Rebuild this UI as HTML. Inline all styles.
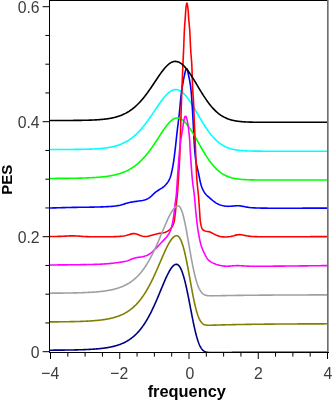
<!DOCTYPE html>
<html><head><meta charset="utf-8"><title>PES</title>
<style>
html,body{margin:0;padding:0;background:#fff;}
body{width:332px;height:401px;overflow:hidden;font-family:"Liberation Sans",sans-serif;}
svg{display:block;}
.t{font-family:"Liberation Sans",sans-serif;font-size:15.8px;fill:#3c3c3c;}
.b{font-family:"Liberation Sans",sans-serif;font-weight:bold;fill:#000;}
.c path{fill:none;stroke-width:1.6;stroke-linejoin:round;stroke-linecap:butt;}
</style></head><body>
<svg width="332" height="401" viewBox="0 0 332 401" style="will-change:transform">
<rect x="0" y="0" width="332" height="401" fill="#ffffff"/>
<defs><clipPath id="cp"><rect x="50" y="1" width="278" height="352"/></clipPath></defs>
<g class="c" clip-path="url(#cp)">
<path d="M50.00 149.49 L50.50 149.49 L51.00 149.49 L51.50 149.49 L52.00 149.49 L52.50 149.49 L53.00 149.49 L53.50 149.49 L54.00 149.49 L54.50 149.49 L55.00 149.49 L55.50 149.49 L56.00 149.49 L56.50 149.49 L57.00 149.49 L57.50 149.49 L58.00 149.48 L58.50 149.48 L59.00 149.48 L59.50 149.48 L60.00 149.48 L60.50 149.48 L61.00 149.48 L61.50 149.48 L62.00 149.48 L62.50 149.48 L63.00 149.47 L63.50 149.47 L64.00 149.47 L64.50 149.47 L65.00 149.47 L65.50 149.47 L66.00 149.47 L66.50 149.46 L67.00 149.46 L67.50 149.46 L68.00 149.46 L68.50 149.46 L69.00 149.45 L69.50 149.45 L70.00 149.45 L70.50 149.45 L71.00 149.44 L71.50 149.44 L72.00 149.44 L72.50 149.43 L73.00 149.43 L73.50 149.43 L74.00 149.42 L74.50 149.42 L75.00 149.41 L75.50 149.41 L76.00 149.41 L76.50 149.40 L77.00 149.40 L77.50 149.39 L78.00 149.38 L78.50 149.38 L79.00 149.37 L79.50 149.37 L80.00 149.36 L80.50 149.35 L81.00 149.34 L81.50 149.34 L82.00 149.33 L82.50 149.32 L83.00 149.31 L83.50 149.30 L84.00 149.29 L84.50 149.28 L85.00 149.27 L85.50 149.26 L86.00 149.25 L86.50 149.24 L87.00 149.22 L87.50 149.21 L88.00 149.19 L88.50 149.18 L89.00 149.16 L89.50 149.15 L90.00 149.13 L90.50 149.11 L91.00 149.09 L91.50 149.08 L92.00 149.05 L92.50 149.03 L93.00 149.01 L93.50 148.99 L94.00 148.96 L94.50 148.94 L95.00 148.91 L95.50 148.88 L96.00 148.86 L96.50 148.83 L97.00 148.79 L97.50 148.76 L98.00 148.73 L98.50 148.69 L99.00 148.65 L99.50 148.61 L100.00 148.57 L100.50 148.53 L101.00 148.49 L101.50 148.44 L102.00 148.39 L102.50 148.34 L103.00 148.29 L103.50 148.24 L104.00 148.18 L104.50 148.12 L105.00 148.06 L105.50 148.00 L106.00 147.93 L106.50 147.86 L107.00 147.79 L107.50 147.71 L108.00 147.63 L108.50 147.55 L109.00 147.47 L109.50 147.38 L110.00 147.29 L110.50 147.20 L111.00 147.10 L111.50 147.00 L112.00 146.89 L112.50 146.78 L113.00 146.67 L113.50 146.55 L114.00 146.43 L114.50 146.30 L115.00 146.17 L115.50 146.03 L116.00 145.89 L116.50 145.75 L117.00 145.59 L117.50 145.44 L118.00 145.28 L118.50 145.11 L119.00 144.93 L119.50 144.75 L120.00 144.57 L120.50 144.38 L121.00 144.18 L121.50 143.97 L122.00 143.76 L122.50 143.54 L123.00 143.31 L123.50 143.08 L124.00 142.84 L124.50 142.59 L125.00 142.34 L125.50 142.07 L126.00 141.80 L126.50 141.52 L127.00 141.23 L127.50 140.94 L128.00 140.63 L128.50 140.32 L129.00 139.99 L129.50 139.66 L130.00 139.32 L130.50 138.97 L131.00 138.61 L131.50 138.24 L132.00 137.86 L132.50 137.47 L133.00 137.07 L133.50 136.66 L134.00 136.24 L134.50 135.81 L135.00 135.37 L135.50 134.92 L136.00 134.46 L136.50 133.99 L137.00 133.51 L137.50 133.02 L138.00 132.52 L138.50 132.00 L139.00 131.48 L139.50 130.95 L140.00 130.40 L140.50 129.85 L141.00 129.28 L141.50 128.71 L142.00 128.12 L142.50 127.53 L143.00 126.92 L143.50 126.31 L144.00 125.68 L144.50 125.05 L145.00 124.40 L145.50 123.75 L146.00 123.09 L146.50 122.42 L147.00 121.75 L147.50 121.06 L148.00 120.37 L148.50 119.67 L149.00 118.97 L149.50 118.26 L150.00 117.54 L150.50 116.82 L151.00 116.09 L151.50 115.36 L152.00 114.62 L152.50 113.88 L153.00 113.14 L153.50 112.40 L154.00 111.65 L154.50 110.91 L155.00 110.16 L155.50 109.41 L156.00 108.67 L156.50 107.93 L157.00 107.19 L157.50 106.45 L158.00 105.72 L158.50 104.99 L159.00 104.27 L159.50 103.56 L160.00 102.85 L160.50 102.15 L161.00 101.46 L161.50 100.78 L162.00 100.12 L162.50 99.46 L163.00 98.82 L163.50 98.19 L164.00 97.58 L164.50 96.98 L165.00 96.40 L165.50 95.84 L166.00 95.29 L166.50 94.77 L167.00 94.26 L167.50 93.78 L168.00 93.32 L168.50 92.88 L169.00 92.46 L169.50 92.07 L170.00 91.71 L170.50 91.37 L171.00 91.06 L171.50 90.78 L172.00 90.53 L172.50 90.30 L173.00 90.11 L173.50 89.94 L174.00 89.81 L174.50 89.71 L175.00 89.64 L175.50 89.61 L176.00 89.60 L176.50 89.63 L177.00 89.69 L177.50 89.79 L178.00 89.91 L178.50 90.07 L179.00 90.26 L179.50 90.48 L180.00 90.73 L180.50 91.01 L181.00 91.32 L181.50 91.67 L182.00 92.04 L182.50 92.44 L183.00 92.87 L183.50 93.32 L184.00 93.81 L184.50 94.32 L185.00 94.85 L185.50 95.41 L186.00 95.99 L186.50 96.60 L187.00 97.23 L187.50 97.87 L188.00 98.54 L188.50 99.23 L189.00 99.94 L189.50 100.66 L190.00 101.40 L190.50 102.16 L191.00 102.93 L191.50 103.71 L192.00 104.51 L192.50 105.31 L193.00 106.13 L193.50 106.96 L194.00 107.79 L194.50 108.63 L195.00 109.48 L195.50 110.33 L196.00 111.18 L196.50 112.04 L197.00 112.90 L197.50 113.76 L198.00 114.63 L198.50 115.49 L199.00 116.35 L199.50 117.20 L200.00 118.06 L200.50 118.91 L201.00 119.75 L201.50 120.59 L202.00 121.42 L202.50 122.24 L203.00 123.06 L203.50 123.87 L204.00 124.67 L204.50 125.46 L205.00 126.24 L205.50 127.01 L206.00 127.77 L206.50 128.51 L207.00 129.25 L207.50 129.97 L208.00 130.68 L208.50 131.37 L209.00 132.05 L209.50 132.72 L210.00 133.38 L210.50 134.02 L211.00 134.64 L211.50 135.26 L212.00 135.85 L212.50 136.44 L213.00 137.00 L213.50 137.56 L214.00 138.10 L214.50 138.62 L215.00 139.13 L215.50 139.63 L216.00 140.11 L216.50 140.58 L217.00 141.03 L217.50 141.47 L218.00 141.89 L218.50 142.30 L219.00 142.70 L219.50 143.08 L220.00 143.45 L220.50 143.81 L221.00 144.15 L221.50 144.49 L222.00 144.81 L222.50 145.11 L223.00 145.41 L223.50 145.69 L224.00 145.97 L224.50 146.23 L225.00 146.48 L225.50 146.72 L226.00 146.96 L226.50 147.18 L227.00 147.39 L227.50 147.59 L228.00 147.79 L228.50 147.97 L229.00 148.15 L229.50 148.32 L230.00 148.48 L230.50 148.63 L231.00 148.77 L231.50 148.91 L232.00 149.05 L232.50 149.17 L233.00 149.29 L233.50 149.40 L234.00 149.51 L234.50 149.61 L235.00 149.71 L235.50 149.80 L236.00 149.89 L236.50 149.97 L237.00 150.05 L237.50 150.12 L238.00 150.19 L238.50 150.25 L239.00 150.31 L239.50 150.37 L240.00 150.43 L240.50 150.48 L241.00 150.52 L241.50 150.57 L242.00 150.61 L242.50 150.65 L243.00 150.69 L243.50 150.73 L244.00 150.76 L244.50 150.79 L245.00 150.82 L245.50 150.85 L246.00 150.87 L246.50 150.89 L247.00 150.92 L247.50 150.94 L248.00 150.96 L248.50 150.97 L249.00 150.99 L249.50 151.01 L250.00 151.02 L250.50 151.04 L251.00 151.05 L251.50 151.06 L252.00 151.07 L252.50 151.08 L253.00 151.09 L253.50 151.10 L254.00 151.11 L254.50 151.11 L255.00 151.12 L255.50 151.13 L256.00 151.13 L256.50 151.14 L257.00 151.14 L257.50 151.15 L258.00 151.15 L258.50 151.16 L259.00 151.16 L259.50 151.16 L260.00 151.17 L260.50 151.17 L261.00 151.17 L261.50 151.17 L262.00 151.18 L262.50 151.18 L263.00 151.18 L263.50 151.18 L264.00 151.18 L264.50 151.19 L265.00 151.19 L265.50 151.19 L266.00 151.19 L266.50 151.19 L267.00 151.19 L267.50 151.19 L268.00 151.19 L268.50 151.19 L269.00 151.19 L269.50 151.19 L270.00 151.20 L270.50 151.20 L271.00 151.20 L271.50 151.20 L272.00 151.20 L272.50 151.20 L273.00 151.20 L273.50 151.20 L274.00 151.20 L274.50 151.20 L275.00 151.20 L275.50 151.20 L276.00 151.20 L276.50 151.20 L277.00 151.20 L277.50 151.20 L278.00 151.20 L278.50 151.20 L279.00 151.20 L279.50 151.20 L280.00 151.20 L280.50 151.20 L281.00 151.20 L281.50 151.20 L282.00 151.20 L282.50 151.20 L283.00 151.20 L283.50 151.20 L284.00 151.20 L284.50 151.20 L285.00 151.20 L285.50 151.20 L286.00 151.20 L286.50 151.20 L287.00 151.20 L287.50 151.20 L288.00 151.20 L288.50 151.20 L289.00 151.20 L289.50 151.20 L290.00 151.20 L290.50 151.20 L291.00 151.20 L291.50 151.20 L292.00 151.20 L292.50 151.20 L293.00 151.20 L293.50 151.20 L294.00 151.20 L294.50 151.20 L295.00 151.20 L295.50 151.20 L296.00 151.20 L296.50 151.20 L297.00 151.20 L297.50 151.20 L298.00 151.20 L298.50 151.20 L299.00 151.20 L299.50 151.20 L300.00 151.20 L300.50 151.20 L301.00 151.20 L301.50 151.20 L302.00 151.20 L302.50 151.20 L303.00 151.20 L303.50 151.20 L304.00 151.20 L304.50 151.20 L305.00 151.20 L305.50 151.20 L306.00 151.20 L306.50 151.20 L307.00 151.20 L307.50 151.20 L308.00 151.20 L308.50 151.20 L309.00 151.20 L309.50 151.20 L310.00 151.20 L310.50 151.20 L311.00 151.20 L311.50 151.20 L312.00 151.20 L312.50 151.20 L313.00 151.20 L313.50 151.20 L314.00 151.20 L314.50 151.20 L315.00 151.20 L315.50 151.20 L316.00 151.20 L316.50 151.20 L317.00 151.20 L317.50 151.20 L318.00 151.20 L318.50 151.20 L319.00 151.20 L319.50 151.20 L320.00 151.20 L320.50 151.20 L321.00 151.20 L321.50 151.20 L322.00 151.20 L322.50 151.20 L323.00 151.20 L323.50 151.20 L324.00 151.20 L324.50 151.20 L325.00 151.20 L325.50 151.20 L326.00 151.20 L326.50 151.20 L327.00 151.20 L327.50 151.20 L328.00 151.20" stroke="#00ffff"/>
<path d="M50.00 207.98 L51.00 207.96 L52.00 207.94 L53.00 207.92 L54.00 207.89 L55.00 207.86 L56.00 207.84 L57.00 207.81 L58.00 207.78 L59.00 207.75 L60.00 207.73 L61.00 207.70 L62.00 207.67 L63.00 207.65 L63.99 207.62 L64.99 207.59 L65.99 207.57 L66.99 207.54 L67.99 207.52 L68.99 207.49 L69.99 207.47 L70.99 207.45 L71.99 207.42 L72.99 207.40 L73.99 207.38 L74.99 207.37 L75.99 207.35 L76.99 207.33 L77.99 207.32 L78.99 207.30 L79.99 207.29 L80.99 207.28 L81.99 207.27 L82.99 207.25 L83.99 207.24 L84.99 207.23 L85.99 207.22 L86.99 207.21 L87.99 207.19 L88.99 207.18 L89.99 207.17 L90.99 207.15 L91.99 207.13 L92.99 207.12 L93.99 207.10 L94.99 207.07 L95.99 207.05 L96.99 207.02 L97.99 207.00 L98.99 206.97 L99.99 206.93 L100.99 206.90 L101.99 206.87 L102.99 206.83 L103.99 206.80 L104.98 206.76 L105.98 206.71 L106.98 206.67 L107.98 206.62 L108.98 206.56 L109.98 206.50 L110.98 206.44 L111.97 206.36 L112.97 206.28 L113.96 206.18 L114.96 206.07 L115.95 205.95 L116.94 205.80 L117.92 205.63 L118.90 205.44 L119.87 205.23 L120.84 204.99 L121.81 204.72 L122.77 204.45 L123.73 204.16 L124.68 203.87 L125.64 203.59 L126.60 203.30 L127.56 203.03 L128.53 202.78 L129.50 202.55 L130.47 202.33 L131.45 202.14 L132.44 201.96 L133.42 201.79 L134.41 201.63 L135.40 201.48 L136.39 201.34 L137.38 201.20 L138.37 201.07 L139.36 200.94 L140.35 200.81 L141.34 200.67 L142.33 200.51 L143.31 200.32 L144.27 200.10 L145.23 199.83 L146.15 199.50 L147.05 199.10 L147.92 198.64 L148.76 198.11 L149.57 197.54 L150.35 196.92 L151.11 196.27 L151.85 195.60 L152.57 194.91 L153.29 194.22 L154.01 193.54 L154.76 192.87 L155.52 192.24 L156.31 191.63 L157.13 191.06 L157.96 190.50 L158.80 189.96 L159.64 189.43 L160.49 188.89 L161.33 188.36 L162.17 187.81 L162.99 187.24 L163.78 186.64 L164.54 186.00 L165.26 185.31 L165.93 184.58 L166.57 183.82 L167.18 183.02 L167.75 182.21 L168.29 181.37 L168.80 180.51 L169.26 179.63 L169.68 178.72 L170.06 177.80 L170.39 176.86 L170.70 175.91 L170.98 174.95 L171.23 173.98 L171.47 173.01 L171.69 172.04 L171.91 171.06 L172.11 170.08 L172.31 169.10 L172.50 168.12 L172.69 167.14 L172.87 166.16 L173.05 165.17 L173.22 164.19 L173.38 163.20 L173.53 162.21 L173.68 161.22 L173.82 160.23 L173.95 159.24 L174.09 158.25 L174.21 157.26 L174.34 156.27 L174.46 155.27 L174.58 154.28 L174.70 153.29 L174.82 152.29 L174.94 151.30 L175.06 150.31 L175.18 149.32 L175.30 148.32 L175.41 147.33 L175.53 146.34 L175.64 145.34 L175.75 144.35 L175.85 143.35 L175.96 142.36 L176.07 141.37 L176.17 140.37 L176.27 139.38 L176.38 138.38 L176.48 137.39 L176.59 136.39 L176.70 135.40 L176.81 134.41 L176.92 133.41 L177.04 132.42 L177.15 131.43 L177.27 130.43 L177.39 129.44 L177.51 128.45 L177.64 127.45 L177.76 126.46 L177.89 125.47 L178.01 124.48 L178.14 123.49 L178.26 122.49 L178.38 121.50 L178.51 120.51 L178.63 119.52 L178.75 118.52 L178.86 117.53 L178.98 116.54 L179.09 115.54 L179.20 114.55 L179.31 113.55 L179.41 112.56 L179.51 111.56 L179.60 110.57 L179.70 109.57 L179.79 108.58 L179.88 107.58 L179.96 106.59 L180.05 105.59 L180.14 104.59 L180.23 103.60 L180.32 102.60 L180.42 101.61 L180.52 100.61 L180.62 99.62 L180.72 98.62 L180.83 97.63 L180.95 96.64 L181.07 95.64 L181.19 94.65 L181.32 93.66 L181.45 92.67 L181.59 91.68 L181.73 90.69 L181.87 89.70 L182.02 88.71 L182.17 87.72 L182.32 86.73 L182.48 85.74 L182.64 84.76 L182.81 83.77 L182.98 82.78 L183.15 81.80 L183.32 80.81 L183.50 79.83 L183.69 78.85 L183.89 77.87 L184.10 76.89 L184.31 75.91 L184.52 74.94 L184.74 73.96 L184.95 72.98 L185.17 72.01 L185.39 71.04 L185.65 70.10 L185.96 69.28 L186.33 68.74 L186.74 68.69 L187.12 69.13 L187.42 69.92 L187.66 70.85 L187.87 71.82 L188.07 72.80 L188.26 73.78 L188.46 74.76 L188.66 75.74 L188.87 76.72 L189.07 77.69 L189.27 78.67 L189.47 79.65 L189.66 80.64 L189.84 81.62 L190.01 82.60 L190.17 83.59 L190.33 84.58 L190.47 85.57 L190.60 86.56 L190.72 87.55 L190.84 88.55 L190.94 89.54 L191.04 90.54 L191.14 91.53 L191.23 92.53 L191.31 93.52 L191.40 94.52 L191.48 95.52 L191.56 96.51 L191.64 97.51 L191.72 98.51 L191.79 99.50 L191.86 100.50 L191.93 101.50 L192.00 102.50 L192.06 103.49 L192.13 104.49 L192.19 105.49 L192.25 106.49 L192.31 107.49 L192.37 108.49 L192.43 109.48 L192.49 110.48 L192.54 111.48 L192.60 112.48 L192.66 113.48 L192.72 114.48 L192.78 115.47 L192.83 116.47 L192.89 117.47 L192.95 118.47 L193.00 119.47 L193.06 120.47 L193.11 121.46 L193.16 122.46 L193.22 123.46 L193.27 124.46 L193.32 125.46 L193.37 126.46 L193.41 127.46 L193.46 128.46 L193.51 129.45 L193.56 130.45 L193.61 131.45 L193.66 132.45 L193.71 133.45 L193.76 134.45 L193.81 135.45 L193.86 136.45 L193.91 137.44 L193.96 138.44 L194.01 139.44 L194.07 140.44 L194.12 141.44 L194.18 142.44 L194.24 143.44 L194.30 144.43 L194.37 145.43 L194.43 146.43 L194.50 147.43 L194.58 148.42 L194.66 149.42 L194.74 150.42 L194.82 151.41 L194.91 152.41 L195.00 153.41 L195.10 154.40 L195.20 155.40 L195.30 156.39 L195.42 157.38 L195.53 158.38 L195.66 159.37 L195.80 160.36 L195.94 161.35 L196.10 162.34 L196.27 163.32 L196.46 164.30 L196.66 165.28 L196.87 166.26 L197.10 167.23 L197.33 168.20 L197.57 169.18 L197.81 170.15 L198.05 171.12 L198.27 172.09 L198.49 173.07 L198.70 174.05 L198.89 175.03 L199.09 176.01 L199.27 176.99 L199.46 177.97 L199.65 178.96 L199.84 179.94 L200.05 180.92 L200.26 181.89 L200.49 182.86 L200.74 183.83 L201.02 184.79 L201.32 185.75 L201.65 186.69 L202.00 187.62 L202.38 188.55 L202.79 189.46 L203.22 190.36 L203.69 191.24 L204.20 192.10 L204.74 192.93 L205.34 193.73 L205.98 194.49 L206.67 195.21 L207.39 195.89 L208.14 196.56 L208.89 197.22 L209.64 197.88 L210.38 198.54 L211.13 199.21 L211.89 199.86 L212.66 200.50 L213.44 201.12 L214.24 201.72 L215.05 202.29 L215.89 202.84 L216.75 203.34 L217.63 203.81 L218.52 204.24 L219.44 204.63 L220.37 204.98 L221.31 205.30 L222.27 205.59 L223.24 205.82 L224.21 206.02 L225.19 206.16 L226.18 206.26 L227.18 206.32 L228.17 206.34 L229.17 206.32 L230.17 206.28 L231.17 206.22 L232.16 206.14 L233.16 206.04 L234.15 205.94 L235.14 205.84 L236.14 205.76 L237.13 205.71 L238.13 205.70 L239.12 205.74 L240.10 205.84 L241.09 205.98 L242.07 206.17 L243.04 206.37 L244.02 206.58 L245.00 206.78 L245.98 206.98 L246.96 207.16 L247.95 207.32 L248.93 207.46 L249.93 207.58 L250.92 207.68 L251.92 207.76 L252.91 207.82 L253.91 207.86 L254.91 207.90 L255.91 207.94 L256.91 207.97 L257.91 208.00 L258.91 208.02 L259.91 208.05 L260.91 208.08 L261.91 208.10 L262.91 208.12 L263.91 208.13 L264.91 208.15 L265.91 208.16 L266.91 208.17 L267.91 208.18 L268.91 208.19 L269.91 208.20 L270.91 208.21 L271.91 208.21 L272.91 208.22 L273.91 208.22 L274.91 208.22 L275.91 208.22 L276.91 208.23 L277.91 208.23 L278.91 208.23 L279.91 208.23 L280.91 208.23 L281.91 208.23 L282.91 208.23 L283.91 208.22 L284.91 208.22 L285.91 208.22 L286.91 208.22 L287.91 208.22 L288.91 208.22 L289.91 208.21 L290.91 208.21 L291.91 208.21 L292.91 208.21 L293.91 208.20 L294.91 208.20 L295.91 208.20 L296.91 208.19 L297.91 208.19 L298.91 208.19 L299.91 208.18 L300.91 208.18 L301.91 208.18 L302.91 208.17 L303.91 208.17 L304.91 208.17 L305.91 208.16 L306.91 208.16 L307.91 208.16 L308.91 208.15 L309.91 208.15 L310.91 208.15 L311.91 208.14 L312.91 208.14 L313.91 208.14 L314.91 208.13 L315.91 208.13 L316.91 208.13 L317.91 208.13 L318.91 208.12 L319.91 208.12 L320.91 208.12 L321.91 208.11 L322.91 208.11 L323.91 208.11 L324.91 208.11 L325.91 208.11 L326.91 208.10 L327.91 208.10" stroke="#0000ff"/>
<path d="M50.00 178.44 L50.50 178.44 L51.00 178.44 L51.50 178.44 L52.00 178.44 L52.50 178.44 L53.00 178.43 L53.50 178.43 L54.00 178.43 L54.50 178.43 L55.00 178.43 L55.50 178.42 L56.00 178.42 L56.50 178.42 L57.00 178.42 L57.50 178.41 L58.00 178.41 L58.50 178.41 L59.00 178.40 L59.50 178.40 L60.00 178.40 L60.50 178.39 L61.00 178.39 L61.50 178.39 L62.00 178.38 L62.50 178.38 L63.00 178.38 L63.50 178.37 L64.00 178.37 L64.50 178.36 L65.00 178.36 L65.50 178.36 L66.00 178.35 L66.50 178.35 L67.00 178.34 L67.50 178.34 L68.00 178.33 L68.50 178.33 L69.00 178.32 L69.50 178.31 L70.00 178.31 L70.50 178.30 L71.00 178.30 L71.50 178.29 L72.00 178.28 L72.50 178.28 L73.00 178.27 L73.50 178.26 L74.00 178.25 L74.50 178.24 L75.00 178.24 L75.50 178.23 L76.00 178.22 L76.50 178.21 L77.00 178.20 L77.50 178.19 L78.00 178.18 L78.50 178.17 L79.00 178.16 L79.50 178.15 L80.00 178.14 L80.50 178.12 L81.00 178.11 L81.50 178.10 L82.00 178.08 L82.50 178.07 L83.00 178.06 L83.50 178.04 L84.00 178.03 L84.50 178.01 L85.00 177.99 L85.50 177.98 L86.00 177.96 L86.50 177.94 L87.00 177.92 L87.50 177.90 L88.00 177.88 L88.50 177.86 L89.00 177.84 L89.50 177.82 L90.00 177.80 L90.50 177.77 L91.00 177.75 L91.50 177.73 L92.00 177.70 L92.50 177.67 L93.00 177.65 L93.50 177.62 L94.00 177.59 L94.50 177.56 L95.00 177.52 L95.50 177.49 L96.00 177.46 L96.50 177.42 L97.00 177.39 L97.50 177.35 L98.00 177.31 L98.50 177.27 L99.00 177.23 L99.50 177.19 L100.00 177.14 L100.50 177.10 L101.00 177.05 L101.50 177.00 L102.00 176.95 L102.50 176.90 L103.00 176.85 L103.50 176.79 L104.00 176.73 L104.50 176.67 L105.00 176.61 L105.50 176.55 L106.00 176.48 L106.50 176.42 L107.00 176.35 L107.50 176.28 L108.00 176.20 L108.50 176.12 L109.00 176.05 L109.50 175.96 L110.00 175.88 L110.50 175.79 L111.00 175.70 L111.50 175.61 L112.00 175.51 L112.50 175.41 L113.00 175.31 L113.50 175.21 L114.00 175.10 L114.50 174.98 L115.00 174.87 L115.50 174.75 L116.00 174.62 L116.50 174.50 L117.00 174.37 L117.50 174.23 L118.00 174.09 L118.50 173.95 L119.00 173.80 L119.50 173.64 L120.00 173.49 L120.50 173.32 L121.00 173.16 L121.50 172.98 L122.00 172.81 L122.50 172.62 L123.00 172.43 L123.50 172.24 L124.00 172.04 L124.50 171.83 L125.00 171.62 L125.50 171.40 L126.00 171.18 L126.50 170.94 L127.00 170.71 L127.50 170.46 L128.00 170.21 L128.50 169.95 L129.00 169.68 L129.50 169.41 L130.00 169.13 L130.50 168.84 L131.00 168.54 L131.50 168.24 L132.00 167.92 L132.50 167.60 L133.00 167.27 L133.50 166.93 L134.00 166.58 L134.50 166.23 L135.00 165.86 L135.50 165.49 L136.00 165.10 L136.50 164.71 L137.00 164.30 L137.50 163.89 L138.00 163.47 L138.50 163.03 L139.00 162.59 L139.50 162.13 L140.00 161.67 L140.50 161.20 L141.00 160.71 L141.50 160.22 L142.00 159.71 L142.50 159.19 L143.00 158.67 L143.50 158.13 L144.00 157.58 L144.50 157.02 L145.00 156.45 L145.50 155.87 L146.00 155.28 L146.50 154.68 L147.00 154.06 L147.50 153.44 L148.00 152.81 L148.50 152.16 L149.00 151.51 L149.50 150.85 L150.00 150.18 L150.50 149.50 L151.00 148.81 L151.50 148.11 L152.00 147.40 L152.50 146.69 L153.00 145.96 L153.50 145.23 L154.00 144.50 L154.50 143.75 L155.00 143.01 L155.50 142.25 L156.00 141.49 L156.50 140.73 L157.00 139.96 L157.50 139.19 L158.00 138.42 L158.50 137.65 L159.00 136.88 L159.50 136.11 L160.00 135.33 L160.50 134.56 L161.00 133.80 L161.50 133.04 L162.00 132.28 L162.50 131.53 L163.00 130.78 L163.50 130.05 L164.00 129.32 L164.50 128.60 L165.00 127.90 L165.50 127.21 L166.00 126.53 L166.50 125.87 L167.00 125.23 L167.50 124.60 L168.00 123.99 L168.50 123.41 L169.00 122.85 L169.50 122.31 L170.00 121.79 L170.50 121.30 L171.00 120.85 L171.50 120.42 L172.00 120.02 L172.50 119.65 L173.00 119.31 L173.50 119.02 L174.00 118.75 L174.50 118.53 L175.00 118.34 L175.50 118.19 L176.00 118.09 L176.50 118.02 L177.00 118.00 L177.50 118.02 L178.00 118.07 L178.50 118.15 L179.00 118.27 L179.50 118.42 L180.00 118.61 L180.50 118.83 L181.00 119.08 L181.50 119.37 L182.00 119.68 L182.50 120.03 L183.00 120.41 L183.50 120.82 L184.00 121.26 L184.50 121.73 L185.00 122.23 L185.50 122.75 L186.00 123.30 L186.50 123.88 L187.00 124.48 L187.50 125.11 L188.00 125.76 L188.50 126.43 L189.00 127.12 L189.50 127.84 L190.00 128.57 L190.50 129.32 L191.00 130.08 L191.50 130.87 L192.00 131.66 L192.50 132.47 L193.00 133.30 L193.50 134.13 L194.00 134.98 L194.50 135.83 L195.00 136.69 L195.50 137.56 L196.00 138.44 L196.50 139.32 L197.00 140.20 L197.50 141.08 L198.00 141.97 L198.50 142.86 L199.00 143.75 L199.50 144.63 L200.00 145.52 L200.50 146.40 L201.00 147.27 L201.50 148.14 L202.00 149.01 L202.50 149.87 L203.00 150.72 L203.50 151.56 L204.00 152.39 L204.50 153.22 L205.00 154.03 L205.50 154.84 L206.00 155.63 L206.50 156.41 L207.00 157.18 L207.50 157.93 L208.00 158.68 L208.50 159.40 L209.00 160.12 L209.50 160.82 L210.00 161.51 L210.50 162.18 L211.00 162.84 L211.50 163.48 L212.00 164.11 L212.50 164.72 L213.00 165.31 L213.50 165.89 L214.00 166.46 L214.50 167.01 L215.00 167.54 L215.50 168.06 L216.00 168.57 L216.50 169.06 L217.00 169.53 L217.50 169.99 L218.00 170.43 L218.50 170.86 L219.00 171.28 L219.50 171.68 L220.00 172.06 L220.50 172.44 L221.00 172.80 L221.50 173.14 L222.00 173.48 L222.50 173.80 L223.00 174.10 L223.50 174.40 L224.00 174.68 L224.50 174.96 L225.00 175.22 L225.50 175.47 L226.00 175.71 L226.50 175.94 L227.00 176.16 L227.50 176.36 L228.00 176.56 L228.50 176.75 L229.00 176.94 L229.50 177.11 L230.00 177.27 L230.50 177.43 L231.00 177.58 L231.50 177.72 L232.00 177.86 L232.50 177.98 L233.00 178.11 L233.50 178.22 L234.00 178.33 L234.50 178.43 L235.00 178.53 L235.50 178.62 L236.00 178.71 L236.50 178.79 L237.00 178.87 L237.50 178.94 L238.00 179.01 L238.50 179.08 L239.00 179.14 L239.50 179.20 L240.00 179.25 L240.50 179.30 L241.00 179.35 L241.50 179.39 L242.00 179.44 L242.50 179.48 L243.00 179.51 L243.50 179.55 L244.00 179.58 L244.50 179.61 L245.00 179.64 L245.50 179.66 L246.00 179.69 L246.50 179.71 L247.00 179.73 L247.50 179.75 L248.00 179.77 L248.50 179.79 L249.00 179.81 L249.50 179.82 L250.00 179.83 L250.50 179.85 L251.00 179.86 L251.50 179.87 L252.00 179.88 L252.50 179.89 L253.00 179.90 L253.50 179.91 L254.00 179.92 L254.50 179.92 L255.00 179.93 L255.50 179.93 L256.00 179.94 L256.50 179.95 L257.00 179.95 L257.50 179.95 L258.00 179.96 L258.50 179.96 L259.00 179.97 L259.50 179.97 L260.00 179.97 L260.50 179.97 L261.00 179.98 L261.50 179.98 L262.00 179.98 L262.50 179.98 L263.00 179.98 L263.50 179.98 L264.00 179.99 L264.50 179.99 L265.00 179.99 L265.50 179.99 L266.00 179.99 L266.50 179.99 L267.00 179.99 L267.50 179.99 L268.00 179.99 L268.50 179.99 L269.00 179.99 L269.50 180.00 L270.00 180.00 L270.50 180.00 L271.00 180.00 L271.50 180.00 L272.00 180.00 L272.50 180.00 L273.00 180.00 L273.50 180.00 L274.00 180.00 L274.50 180.00 L275.00 180.00 L275.50 180.00 L276.00 180.00 L276.50 180.00 L277.00 180.00 L277.50 180.00 L278.00 180.00 L278.50 180.00 L279.00 180.00 L279.50 180.00 L280.00 180.00 L280.50 180.00 L281.00 180.00 L281.50 180.00 L282.00 180.00 L282.50 180.00 L283.00 180.00 L283.50 180.00 L284.00 180.00 L284.50 180.00 L285.00 180.00 L285.50 180.00 L286.00 180.00 L286.50 180.00 L287.00 180.00 L287.50 180.00 L288.00 180.00 L288.50 180.00 L289.00 180.00 L289.50 180.00 L290.00 180.00 L290.50 180.00 L291.00 180.00 L291.50 180.00 L292.00 180.00 L292.50 180.00 L293.00 180.00 L293.50 180.00 L294.00 180.00 L294.50 180.00 L295.00 180.00 L295.50 180.00 L296.00 180.00 L296.50 180.00 L297.00 180.00 L297.50 180.00 L298.00 180.00 L298.50 180.00 L299.00 180.00 L299.50 180.00 L300.00 180.00 L300.50 180.00 L301.00 180.00 L301.50 180.00 L302.00 180.00 L302.50 180.00 L303.00 180.00 L303.50 180.00 L304.00 180.00 L304.50 180.00 L305.00 180.00 L305.50 180.00 L306.00 180.00 L306.50 180.00 L307.00 180.00 L307.50 180.00 L308.00 180.00 L308.50 180.00 L309.00 180.00 L309.50 180.00 L310.00 180.00 L310.50 180.00 L311.00 180.00 L311.50 180.00 L312.00 180.00 L312.50 180.00 L313.00 180.00 L313.50 180.00 L314.00 180.00 L314.50 180.00 L315.00 180.00 L315.50 180.00 L316.00 180.00 L316.50 180.00 L317.00 180.00 L317.50 180.00 L318.00 180.00 L318.50 180.00 L319.00 180.00 L319.50 180.00 L320.00 180.00 L320.50 180.00 L321.00 180.00 L321.50 180.00 L322.00 180.00 L322.50 180.00 L323.00 180.00 L323.50 180.00 L324.00 180.00 L324.50 180.00 L325.00 180.00 L325.50 180.00 L326.00 180.00 L326.50 180.00 L327.00 180.00 L327.50 180.00 L328.00 180.00" stroke="#00ff00"/>
<path d="M50.00 236.58 L51.00 236.57 L52.00 236.55 L53.00 236.53 L54.00 236.51 L55.00 236.49 L56.00 236.46 L57.00 236.44 L58.00 236.41 L59.00 236.39 L60.00 236.36 L61.00 236.33 L62.00 236.29 L62.99 236.25 L63.99 236.20 L64.99 236.14 L65.99 236.08 L66.99 236.02 L67.99 235.97 L68.99 235.92 L69.98 235.87 L70.98 235.85 L71.98 235.83 L72.98 235.83 L73.98 235.85 L74.98 235.89 L75.98 235.94 L76.98 236.00 L77.97 236.07 L78.97 236.15 L79.97 236.23 L80.96 236.30 L81.96 236.38 L82.96 236.45 L83.96 236.51 L84.96 236.56 L85.95 236.60 L86.95 236.64 L87.95 236.67 L88.95 236.70 L89.95 236.72 L90.95 236.74 L91.95 236.76 L92.95 236.77 L93.95 236.78 L94.95 236.79 L95.95 236.80 L96.95 236.81 L97.95 236.81 L98.95 236.81 L99.95 236.81 L100.95 236.81 L101.95 236.81 L102.95 236.80 L103.95 236.80 L104.95 236.79 L105.95 236.78 L106.95 236.78 L107.95 236.77 L108.95 236.76 L109.95 236.74 L110.95 236.73 L111.95 236.71 L112.95 236.69 L113.95 236.67 L114.95 236.64 L115.95 236.60 L116.95 236.56 L117.95 236.51 L118.95 236.45 L119.94 236.38 L120.94 236.30 L121.93 236.20 L122.93 236.08 L123.91 235.94 L124.90 235.76 L125.87 235.55 L126.84 235.30 L127.79 235.02 L128.75 234.72 L129.70 234.41 L130.65 234.12 L131.61 233.86 L132.57 233.67 L133.54 233.58 L134.51 233.62 L135.46 233.78 L136.41 234.04 L137.35 234.37 L138.28 234.73 L139.20 235.10 L140.13 235.46 L141.07 235.80 L142.02 236.09 L142.99 236.31 L143.97 236.47 L144.95 236.56 L145.94 236.56 L146.92 236.48 L147.90 236.33 L148.87 236.10 L149.83 235.84 L150.79 235.56 L151.75 235.28 L152.71 234.99 L153.67 234.72 L154.63 234.45 L155.60 234.20 L156.57 233.96 L157.54 233.74 L158.52 233.53 L159.50 233.35 L160.49 233.18 L161.48 233.03 L162.46 232.86 L163.44 232.67 L164.41 232.44 L165.37 232.16 L166.29 231.81 L167.19 231.37 L168.05 230.87 L168.87 230.30 L169.64 229.67 L170.35 228.98 L171.01 228.23 L171.61 227.44 L172.15 226.60 L172.64 225.73 L173.07 224.83 L173.45 223.91 L173.78 222.96 L174.04 222.00 L174.25 221.02 L174.42 220.04 L174.56 219.05 L174.68 218.05 L174.80 217.06 L174.92 216.07 L175.04 215.08 L175.17 214.08 L175.30 213.09 L175.42 212.10 L175.53 211.11 L175.65 210.11 L175.75 209.12 L175.86 208.12 L175.96 207.13 L176.07 206.14 L176.18 205.14 L176.29 204.15 L176.40 203.15 L176.51 202.16 L176.63 201.17 L176.75 200.17 L176.87 199.18 L176.98 198.19 L177.09 197.19 L177.19 196.20 L177.28 195.20 L177.37 194.21 L177.45 193.21 L177.53 192.21 L177.60 191.22 L177.68 190.22 L177.75 189.22 L177.82 188.22 L177.89 187.23 L177.95 186.23 L178.02 185.23 L178.08 184.23 L178.15 183.23 L178.21 182.24 L178.27 181.24 L178.33 180.24 L178.39 179.24 L178.45 178.24 L178.52 177.25 L178.58 176.25 L178.64 175.25 L178.70 174.25 L178.76 173.25 L178.82 172.26 L178.88 171.26 L178.95 170.26 L179.01 169.26 L179.07 168.26 L179.13 167.27 L179.20 166.27 L179.26 165.27 L179.32 164.27 L179.38 163.27 L179.43 162.27 L179.49 161.28 L179.54 160.28 L179.60 159.28 L179.65 158.28 L179.70 157.28 L179.74 156.28 L179.79 155.28 L179.83 154.28 L179.87 153.28 L179.91 152.29 L179.95 151.29 L179.98 150.29 L180.01 149.29 L180.05 148.29 L180.08 147.29 L180.11 146.29 L180.14 145.29 L180.17 144.29 L180.20 143.29 L180.23 142.29 L180.25 141.29 L180.28 140.29 L180.31 139.29 L180.33 138.29 L180.36 137.29 L180.39 136.29 L180.41 135.29 L180.44 134.29 L180.47 133.29 L180.49 132.29 L180.52 131.29 L180.55 130.30 L180.57 129.30 L180.60 128.30 L180.63 127.30 L180.66 126.30 L180.69 125.30 L180.72 124.30 L180.75 123.30 L180.78 122.30 L180.81 121.30 L180.85 120.30 L180.88 119.30 L180.91 118.30 L180.94 117.30 L180.97 116.30 L181.00 115.30 L181.03 114.30 L181.06 113.30 L181.09 112.30 L181.13 111.30 L181.16 110.30 L181.19 109.30 L181.22 108.31 L181.25 107.31 L181.29 106.31 L181.32 105.31 L181.35 104.31 L181.39 103.31 L181.42 102.31 L181.45 101.31 L181.49 100.31 L181.53 99.31 L181.56 98.31 L181.60 97.31 L181.64 96.31 L181.68 95.31 L181.72 94.31 L181.76 93.32 L181.81 92.32 L181.85 91.32 L181.89 90.32 L181.93 89.32 L181.97 88.32 L182.01 87.32 L182.05 86.32 L182.08 85.32 L182.12 84.32 L182.16 83.32 L182.20 82.32 L182.24 81.32 L182.28 80.33 L182.32 79.33 L182.36 78.33 L182.40 77.33 L182.44 76.33 L182.48 75.33 L182.52 74.33 L182.56 73.33 L182.60 72.33 L182.64 71.33 L182.68 70.33 L182.72 69.33 L182.76 68.34 L182.80 67.34 L182.84 66.34 L182.89 65.34 L182.93 64.34 L182.97 63.34 L183.02 62.34 L183.07 61.34 L183.11 60.34 L183.16 59.34 L183.21 58.35 L183.26 57.35 L183.31 56.35 L183.35 55.35 L183.40 54.35 L183.45 53.35 L183.49 52.35 L183.54 51.35 L183.58 50.35 L183.63 49.36 L183.67 48.36 L183.71 47.36 L183.75 46.36 L183.78 45.36 L183.82 44.36 L183.86 43.36 L183.89 42.36 L183.93 41.36 L183.96 40.36 L184.00 39.36 L184.04 38.36 L184.08 37.36 L184.11 36.36 L184.15 35.37 L184.19 34.37 L184.24 33.37 L184.28 32.37 L184.33 31.37 L184.38 30.37 L184.44 29.37 L184.50 28.37 L184.56 27.38 L184.63 26.38 L184.70 25.38 L184.77 24.38 L184.85 23.39 L184.92 22.39 L185.00 21.39 L185.07 20.39 L185.14 19.40 L185.21 18.40 L185.27 17.40 L185.34 16.40 L185.40 15.41 L185.47 14.41 L185.54 13.41 L185.61 12.41 L185.68 11.42 L185.77 10.42 L185.85 9.42 L185.95 8.43 L186.05 7.43 L186.17 6.44 L186.31 5.45 L186.46 4.47 L186.66 3.57 L186.92 3.19 L187.17 3.68 L187.35 4.60 L187.51 5.58 L187.67 6.57 L187.81 7.56 L187.94 8.55 L188.05 9.54 L188.15 10.54 L188.23 11.54 L188.31 12.53 L188.37 13.53 L188.44 14.53 L188.50 15.53 L188.56 16.52 L188.63 17.52 L188.69 18.52 L188.77 19.52 L188.85 20.51 L188.93 21.51 L189.02 22.51 L189.12 23.50 L189.22 24.50 L189.32 25.49 L189.41 26.49 L189.50 27.48 L189.58 28.48 L189.66 29.48 L189.73 30.47 L189.79 31.47 L189.85 32.47 L189.91 33.47 L189.96 34.47 L190.01 35.47 L190.05 36.47 L190.10 37.46 L190.15 38.46 L190.19 39.46 L190.23 40.46 L190.28 41.46 L190.32 42.46 L190.37 43.46 L190.41 44.46 L190.46 45.46 L190.51 46.46 L190.56 47.45 L190.61 48.45 L190.67 49.45 L190.73 50.45 L190.80 51.45 L190.87 52.44 L190.94 53.44 L191.02 54.44 L191.10 55.44 L191.18 56.43 L191.26 57.43 L191.34 58.43 L191.42 59.42 L191.50 60.42 L191.57 61.42 L191.64 62.41 L191.70 63.41 L191.76 64.41 L191.82 65.41 L191.87 66.41 L191.91 67.41 L191.96 68.41 L192.00 69.40 L192.03 70.40 L192.07 71.40 L192.10 72.40 L192.13 73.40 L192.16 74.40 L192.19 75.40 L192.22 76.40 L192.25 77.40 L192.28 78.40 L192.31 79.40 L192.34 80.40 L192.37 81.40 L192.40 82.40 L192.43 83.40 L192.47 84.40 L192.50 85.40 L192.54 86.40 L192.58 87.40 L192.62 88.39 L192.67 89.39 L192.73 90.39 L192.79 91.39 L192.86 92.39 L192.93 93.38 L193.02 94.38 L193.10 95.38 L193.19 96.37 L193.27 97.37 L193.34 98.37 L193.41 99.37 L193.47 100.36 L193.52 101.36 L193.57 102.36 L193.61 103.36 L193.66 104.36 L193.69 105.36 L193.73 106.36 L193.77 107.36 L193.80 108.36 L193.84 109.36 L193.87 110.36 L193.91 111.35 L193.94 112.35 L193.97 113.35 L194.01 114.35 L194.05 115.35 L194.08 116.35 L194.12 117.35 L194.16 118.35 L194.21 119.35 L194.25 120.35 L194.29 121.35 L194.33 122.35 L194.38 123.35 L194.42 124.34 L194.46 125.34 L194.50 126.34 L194.55 127.34 L194.59 128.34 L194.63 129.34 L194.68 130.34 L194.72 131.34 L194.77 132.34 L194.81 133.34 L194.85 134.33 L194.90 135.33 L194.94 136.33 L194.99 137.33 L195.03 138.33 L195.08 139.33 L195.12 140.33 L195.16 141.33 L195.21 142.33 L195.25 143.33 L195.30 144.32 L195.34 145.32 L195.39 146.32 L195.43 147.32 L195.48 148.32 L195.52 149.32 L195.56 150.32 L195.61 151.32 L195.65 152.32 L195.69 153.32 L195.73 154.32 L195.77 155.31 L195.81 156.31 L195.85 157.31 L195.89 158.31 L195.92 159.31 L195.96 160.31 L196.00 161.31 L196.04 162.31 L196.08 163.31 L196.11 164.31 L196.15 165.31 L196.19 166.31 L196.23 167.31 L196.28 168.30 L196.32 169.30 L196.36 170.30 L196.41 171.30 L196.45 172.30 L196.50 173.30 L196.55 174.30 L196.61 175.30 L196.66 176.30 L196.72 177.29 L196.79 178.29 L196.85 179.29 L196.92 180.29 L197.00 181.28 L197.09 182.28 L197.18 183.28 L197.27 184.27 L197.37 185.27 L197.48 186.26 L197.58 187.26 L197.69 188.25 L197.81 189.24 L197.92 190.24 L198.03 191.23 L198.13 192.23 L198.23 193.22 L198.33 194.22 L198.42 195.21 L198.50 196.21 L198.58 197.20 L198.66 198.20 L198.73 199.20 L198.80 200.20 L198.87 201.19 L198.94 202.19 L199.01 203.19 L199.08 204.19 L199.15 205.18 L199.22 206.18 L199.29 207.18 L199.36 208.18 L199.44 209.17 L199.51 210.17 L199.58 211.17 L199.65 212.17 L199.71 213.16 L199.77 214.16 L199.83 215.16 L199.89 216.16 L199.95 217.16 L200.02 218.15 L200.11 219.15 L200.20 220.15 L200.31 221.14 L200.45 222.13 L200.62 223.12 L200.81 224.10 L201.02 225.08 L201.24 226.05 L201.49 227.01 L201.81 227.96 L202.22 228.85 L202.78 229.66 L203.50 230.29 L204.37 230.74 L205.30 231.04 L206.27 231.27 L207.25 231.45 L208.23 231.60 L209.20 231.80 L210.15 232.10 L211.06 232.48 L211.95 232.92 L212.83 233.39 L213.71 233.86 L214.60 234.31 L215.50 234.75 L216.41 235.16 L217.33 235.54 L218.27 235.88 L219.22 236.17 L220.19 236.41 L221.17 236.61 L222.15 236.76 L223.14 236.86 L224.14 236.92 L225.14 236.95 L226.13 236.93 L227.13 236.89 L228.13 236.81 L229.12 236.71 L230.11 236.57 L231.09 236.40 L232.07 236.19 L233.03 235.94 L233.99 235.67 L234.94 235.38 L235.90 235.10 L236.87 234.87 L237.84 234.70 L238.83 234.60 L239.81 234.59 L240.79 234.68 L241.77 234.83 L242.75 235.02 L243.73 235.22 L244.71 235.43 L245.69 235.63 L246.67 235.82 L247.65 235.99 L248.64 236.14 L249.63 236.27 L250.63 236.37 L251.62 236.45 L252.62 236.51 L253.62 236.56 L254.62 236.60 L255.62 236.63 L256.62 236.66 L257.61 236.69 L258.61 236.71 L259.61 236.73 L260.61 236.75 L261.61 236.76 L262.61 236.77 L263.61 236.78 L264.61 236.79 L265.61 236.79 L266.61 236.79 L267.61 236.80 L268.61 236.80 L269.61 236.80 L270.61 236.80 L271.61 236.80 L272.61 236.80 L273.61 236.80 L274.61 236.80 L275.61 236.80 L276.61 236.80 L277.61 236.80 L278.61 236.80 L279.61 236.79 L280.61 236.79 L281.61 236.79 L282.61 236.79 L283.61 236.78 L284.61 236.78 L285.61 236.78 L286.61 236.77 L287.61 236.77 L288.61 236.77 L289.61 236.76 L290.61 236.76 L291.61 236.75 L292.61 236.75 L293.61 236.75 L294.61 236.74 L295.61 236.74 L296.61 236.73 L297.61 236.73 L298.61 236.73 L299.61 236.72 L300.61 236.72 L301.61 236.71 L302.61 236.71 L303.61 236.70 L304.61 236.70 L305.61 236.69 L306.61 236.69 L307.61 236.68 L308.61 236.68 L309.61 236.68 L310.61 236.67 L311.61 236.67 L312.61 236.66 L313.61 236.66 L314.61 236.65 L315.61 236.65 L316.61 236.65 L317.61 236.64 L318.61 236.64 L319.61 236.63 L320.61 236.63 L321.61 236.62 L322.61 236.62 L323.61 236.62 L324.61 236.61 L325.61 236.61 L326.61 236.61 L327.61 236.60" stroke="#ff0000"/>
<path d="M50.00 264.99 L51.00 264.98 L52.00 264.98 L53.00 264.97 L54.00 264.96 L55.00 264.95 L56.00 264.94 L57.00 264.93 L58.00 264.92 L59.00 264.91 L60.00 264.90 L61.00 264.89 L62.00 264.88 L63.00 264.87 L64.00 264.86 L65.00 264.85 L66.00 264.84 L67.00 264.83 L68.00 264.82 L69.00 264.81 L70.00 264.80 L71.00 264.79 L72.00 264.78 L73.00 264.77 L74.00 264.76 L75.00 264.75 L76.00 264.74 L77.00 264.73 L78.00 264.71 L79.00 264.70 L80.00 264.69 L81.00 264.67 L82.00 264.66 L83.00 264.64 L84.00 264.62 L85.00 264.61 L86.00 264.59 L87.00 264.57 L88.00 264.55 L89.00 264.53 L90.00 264.51 L91.00 264.49 L92.00 264.46 L93.00 264.44 L94.00 264.41 L95.00 264.38 L95.99 264.35 L96.99 264.32 L97.99 264.28 L98.99 264.24 L99.99 264.19 L100.99 264.14 L101.99 264.09 L102.99 264.04 L103.99 263.98 L104.98 263.92 L105.98 263.85 L106.98 263.78 L107.98 263.70 L108.97 263.62 L109.97 263.52 L110.96 263.41 L111.95 263.29 L112.94 263.17 L113.94 263.04 L114.93 262.92 L115.92 262.80 L116.91 262.68 L117.91 262.55 L118.90 262.43 L119.89 262.29 L120.88 262.15 L121.86 261.99 L122.85 261.82 L123.83 261.64 L124.81 261.43 L125.78 261.20 L126.74 260.94 L127.70 260.65 L128.64 260.33 L129.58 259.98 L130.50 259.61 L131.42 259.23 L132.34 258.85 L133.27 258.49 L134.22 258.18 L135.17 257.90 L136.14 257.68 L137.12 257.50 L138.10 257.35 L139.09 257.22 L140.08 257.10 L141.07 256.97 L142.06 256.81 L143.03 256.61 L144.00 256.38 L144.95 256.10 L145.89 255.78 L146.82 255.41 L147.72 254.99 L148.60 254.53 L149.45 254.02 L150.28 253.47 L151.08 252.89 L151.86 252.26 L152.61 251.61 L153.34 250.93 L154.06 250.23 L154.76 249.53 L155.46 248.81 L156.15 248.09 L156.84 247.36 L157.53 246.64 L158.21 245.91 L158.90 245.18 L159.59 244.46 L160.28 243.73 L160.97 243.01 L161.66 242.28 L162.35 241.56 L163.04 240.84 L163.73 240.12 L164.42 239.39 L165.10 238.66 L165.77 237.92 L166.42 237.16 L167.05 236.38 L167.66 235.59 L168.24 234.78 L168.78 233.95 L169.27 233.08 L169.72 232.19 L170.12 231.28 L170.49 230.35 L170.83 229.41 L171.14 228.46 L171.43 227.50 L171.70 226.54 L171.96 225.58 L172.20 224.61 L172.42 223.63 L172.62 222.65 L172.80 221.67 L172.98 220.68 L173.14 219.70 L173.30 218.71 L173.45 217.72 L173.59 216.73 L173.73 215.74 L173.87 214.75 L174.01 213.76 L174.13 212.77 L174.25 211.78 L174.37 210.78 L174.47 209.79 L174.58 208.79 L174.68 207.80 L174.79 206.81 L174.90 205.81 L175.01 204.82 L175.13 203.83 L175.26 202.83 L175.40 201.84 L175.54 200.85 L175.68 199.86 L175.82 198.87 L175.95 197.88 L176.08 196.89 L176.19 195.90 L176.30 194.90 L176.39 193.91 L176.48 192.91 L176.55 191.91 L176.62 190.92 L176.69 189.92 L176.75 188.92 L176.81 187.92 L176.87 186.92 L176.93 185.93 L176.99 184.93 L177.05 183.93 L177.11 182.93 L177.17 181.93 L177.24 180.94 L177.31 179.94 L177.38 178.94 L177.45 177.94 L177.52 176.95 L177.59 175.95 L177.66 174.95 L177.73 173.95 L177.80 172.96 L177.87 171.96 L177.94 170.96 L178.02 169.96 L178.09 168.97 L178.16 167.97 L178.23 166.97 L178.31 165.97 L178.38 164.98 L178.45 163.98 L178.53 162.98 L178.60 161.98 L178.68 160.99 L178.76 159.99 L178.83 158.99 L178.91 158.00 L178.99 157.00 L179.07 156.00 L179.15 155.01 L179.24 154.01 L179.33 153.01 L179.41 152.02 L179.51 151.02 L179.60 150.03 L179.70 149.03 L179.80 148.04 L179.91 147.04 L180.02 146.05 L180.14 145.06 L180.26 144.06 L180.38 143.07 L180.51 142.08 L180.65 141.09 L180.79 140.10 L180.94 139.11 L181.10 138.12 L181.26 137.14 L181.42 136.15 L181.59 135.16 L181.76 134.18 L181.93 133.19 L182.10 132.21 L182.26 131.22 L182.41 130.23 L182.55 129.24 L182.69 128.25 L182.82 127.26 L182.95 126.27 L183.09 125.28 L183.24 124.29 L183.39 123.30 L183.56 122.32 L183.75 121.33 L183.94 120.35 L184.15 119.38 L184.37 118.41 L184.63 117.47 L184.94 116.68 L185.32 116.20 L185.74 116.21 L186.13 116.71 L186.45 117.51 L186.71 118.45 L186.94 119.41 L187.16 120.39 L187.36 121.37 L187.55 122.35 L187.73 123.33 L187.90 124.32 L188.05 125.31 L188.20 126.30 L188.33 127.29 L188.46 128.28 L188.59 129.27 L188.70 130.27 L188.82 131.26 L188.93 132.25 L189.04 133.25 L189.14 134.24 L189.24 135.24 L189.34 136.23 L189.43 137.23 L189.52 138.22 L189.61 139.22 L189.69 140.22 L189.76 141.21 L189.82 142.21 L189.87 143.21 L189.92 144.21 L189.96 145.21 L190.01 146.21 L190.05 147.21 L190.10 148.20 L190.16 149.20 L190.22 150.20 L190.28 151.20 L190.34 152.20 L190.40 153.20 L190.47 154.19 L190.53 155.19 L190.60 156.19 L190.66 157.19 L190.73 158.18 L190.79 159.18 L190.86 160.18 L190.93 161.18 L191.00 162.18 L191.06 163.17 L191.13 164.17 L191.20 165.17 L191.27 166.17 L191.35 167.16 L191.42 168.16 L191.49 169.16 L191.57 170.16 L191.64 171.15 L191.72 172.15 L191.80 173.15 L191.88 174.14 L191.96 175.14 L192.05 176.14 L192.14 177.13 L192.23 178.13 L192.32 179.12 L192.42 180.12 L192.52 181.11 L192.63 182.11 L192.75 183.10 L192.87 184.09 L193.00 185.08 L193.13 186.08 L193.27 187.07 L193.40 188.06 L193.54 189.05 L193.67 190.04 L193.81 191.03 L193.94 192.02 L194.06 193.01 L194.18 194.01 L194.29 195.00 L194.40 195.99 L194.50 196.99 L194.60 197.98 L194.69 198.98 L194.78 199.98 L194.87 200.97 L194.96 201.97 L195.04 202.96 L195.13 203.96 L195.21 204.96 L195.29 205.95 L195.38 206.95 L195.46 207.95 L195.55 208.94 L195.64 209.94 L195.73 210.93 L195.83 211.93 L195.93 212.92 L196.03 213.92 L196.14 214.91 L196.24 215.91 L196.35 216.90 L196.46 217.90 L196.57 218.89 L196.68 219.88 L196.79 220.88 L196.91 221.87 L197.02 222.86 L197.14 223.86 L197.26 224.85 L197.39 225.84 L197.52 226.83 L197.65 227.82 L197.79 228.81 L197.94 229.80 L198.09 230.79 L198.25 231.78 L198.42 232.77 L198.59 233.75 L198.76 234.73 L198.94 235.72 L199.13 236.70 L199.32 237.68 L199.51 238.66 L199.72 239.64 L199.93 240.62 L200.16 241.59 L200.39 242.56 L200.64 243.53 L200.91 244.50 L201.20 245.45 L201.50 246.41 L201.82 247.35 L202.17 248.29 L202.53 249.22 L202.92 250.14 L203.31 251.06 L203.73 251.97 L204.15 252.87 L204.59 253.77 L205.04 254.67 L205.49 255.56 L205.96 256.44 L206.45 257.31 L206.98 258.15 L207.56 258.95 L208.20 259.70 L208.91 260.39 L209.67 261.02 L210.47 261.60 L211.31 262.13 L212.17 262.62 L213.06 263.07 L213.97 263.49 L214.89 263.87 L215.82 264.22 L216.76 264.55 L217.72 264.84 L218.68 265.11 L219.65 265.34 L220.62 265.56 L221.60 265.74 L222.59 265.89 L223.58 266.02 L224.57 266.11 L225.57 266.17 L226.56 266.20 L227.56 266.19 L228.56 266.15 L229.56 266.10 L230.55 266.03 L231.55 265.95 L232.55 265.87 L233.54 265.80 L234.54 265.74 L235.54 265.69 L236.54 265.66 L237.54 265.65 L238.54 265.66 L239.54 265.69 L240.53 265.73 L241.53 265.78 L242.53 265.83 L243.53 265.89 L244.53 265.95 L245.53 266.01 L246.52 266.06 L247.52 266.11 L248.52 266.15 L249.52 266.18 L250.52 266.21 L251.52 266.23 L252.52 266.24 L253.52 266.25 L254.52 266.26 L255.52 266.27 L256.52 266.27 L257.52 266.27 L258.52 266.27 L259.52 266.26 L260.52 266.26 L261.52 266.25 L262.52 266.25 L263.52 266.24 L264.52 266.23 L265.52 266.23 L266.52 266.22 L267.52 266.21 L268.52 266.21 L269.52 266.20 L270.52 266.19 L271.52 266.19 L272.52 266.18 L273.52 266.17 L274.52 266.17 L275.52 266.16 L276.52 266.15 L277.52 266.14 L278.52 266.13 L279.52 266.12 L280.52 266.12 L281.52 266.11 L282.52 266.10 L283.52 266.09 L284.52 266.08 L285.52 266.07 L286.52 266.06 L287.52 266.05 L288.52 266.04 L289.52 266.03 L290.52 266.02 L291.52 266.01 L292.52 265.99 L293.52 265.98 L294.52 265.97 L295.52 265.96 L296.52 265.95 L297.52 265.94 L298.52 265.93 L299.52 265.92 L300.52 265.91 L301.52 265.89 L302.52 265.88 L303.52 265.87 L304.52 265.86 L305.52 265.85 L306.52 265.84 L307.52 265.83 L308.52 265.81 L309.52 265.80 L310.52 265.79 L311.52 265.78 L312.52 265.77 L313.52 265.76 L314.52 265.75 L315.52 265.74 L316.52 265.72 L317.52 265.71 L318.52 265.70 L319.52 265.69 L320.52 265.68 L321.52 265.67 L322.52 265.66 L323.52 265.65 L324.52 265.64 L325.52 265.63 L326.52 265.62 L327.52 265.61" stroke="#ff00ff"/>
<path d="M50.00 293.19 L50.50 293.18 L51.00 293.18 L51.50 293.18 L52.00 293.17 L52.50 293.17 L53.00 293.17 L53.50 293.16 L54.00 293.16 L54.50 293.16 L55.00 293.15 L55.50 293.15 L56.00 293.15 L56.50 293.14 L57.00 293.14 L57.50 293.13 L58.00 293.13 L58.50 293.12 L59.00 293.12 L59.50 293.12 L60.00 293.11 L60.50 293.11 L61.00 293.10 L61.50 293.10 L62.00 293.09 L62.50 293.09 L63.00 293.08 L63.50 293.07 L64.00 293.07 L64.50 293.06 L65.00 293.06 L65.50 293.05 L66.00 293.04 L66.50 293.04 L67.00 293.03 L67.50 293.02 L68.00 293.01 L68.50 293.01 L69.00 293.00 L69.50 292.99 L70.00 292.98 L70.50 292.97 L71.00 292.96 L71.50 292.95 L72.00 292.95 L72.50 292.94 L73.00 292.93 L73.50 292.92 L74.00 292.90 L74.50 292.89 L75.00 292.88 L75.50 292.87 L76.00 292.86 L76.50 292.85 L77.00 292.83 L77.50 292.82 L78.00 292.81 L78.50 292.79 L79.00 292.78 L79.50 292.77 L80.00 292.75 L80.50 292.74 L81.00 292.72 L81.50 292.70 L82.00 292.69 L82.50 292.67 L83.00 292.65 L83.50 292.63 L84.00 292.61 L84.50 292.59 L85.00 292.57 L85.50 292.55 L86.00 292.53 L86.50 292.51 L87.00 292.49 L87.50 292.46 L88.00 292.44 L88.50 292.41 L89.00 292.39 L89.50 292.36 L90.00 292.33 L90.50 292.30 L91.00 292.27 L91.50 292.24 L92.00 292.21 L92.50 292.18 L93.00 292.15 L93.50 292.11 L94.00 292.08 L94.50 292.04 L95.00 292.01 L95.50 291.97 L96.00 291.93 L96.50 291.89 L97.00 291.84 L97.50 291.80 L98.00 291.76 L98.50 291.71 L99.00 291.66 L99.50 291.61 L100.00 291.56 L100.50 291.51 L101.00 291.45 L101.50 291.40 L102.00 291.34 L102.50 291.28 L103.00 291.22 L103.50 291.16 L104.00 291.09 L104.50 291.02 L105.00 290.95 L105.50 290.88 L106.00 290.81 L106.50 290.73 L107.00 290.65 L107.50 290.57 L108.00 290.49 L108.50 290.40 L109.00 290.31 L109.50 290.22 L110.00 290.12 L110.50 290.02 L111.00 289.92 L111.50 289.82 L112.00 289.71 L112.50 289.60 L113.00 289.48 L113.50 289.37 L114.00 289.24 L114.50 289.12 L115.00 288.99 L115.50 288.85 L116.00 288.71 L116.50 288.57 L117.00 288.42 L117.50 288.27 L118.00 288.11 L118.50 287.95 L119.00 287.78 L119.50 287.61 L120.00 287.43 L120.50 287.25 L121.00 287.06 L121.50 286.87 L122.00 286.67 L122.50 286.46 L123.00 286.24 L123.50 286.02 L124.00 285.80 L124.50 285.56 L125.00 285.32 L125.50 285.07 L126.00 284.82 L126.50 284.55 L127.00 284.28 L127.50 284.00 L128.00 283.71 L128.50 283.41 L129.00 283.11 L129.50 282.79 L130.00 282.46 L130.50 282.13 L131.00 281.78 L131.50 281.43 L132.00 281.06 L132.50 280.69 L133.00 280.30 L133.50 279.90 L134.00 279.49 L134.50 279.07 L135.00 278.63 L135.50 278.19 L136.00 277.73 L136.50 277.26 L137.00 276.77 L137.50 276.28 L138.00 275.76 L138.50 275.24 L139.00 274.70 L139.50 274.14 L140.00 273.58 L140.50 272.99 L141.00 272.39 L141.50 271.78 L142.00 271.15 L142.50 270.50 L143.00 269.84 L143.50 269.16 L144.00 268.47 L144.50 267.75 L145.00 267.02 L145.50 266.28 L146.00 265.52 L146.50 264.73 L147.00 263.94 L147.50 263.12 L148.00 262.29 L148.50 261.44 L149.00 260.57 L149.50 259.68 L150.00 258.78 L150.50 257.86 L151.00 256.92 L151.50 255.96 L152.00 254.99 L152.50 254.00 L153.00 252.99 L153.50 251.97 L154.00 250.93 L154.50 249.88 L155.00 248.81 L155.50 247.73 L156.00 246.63 L156.50 245.52 L157.00 244.39 L157.50 243.26 L158.00 242.11 L158.50 240.95 L159.00 239.79 L159.50 238.61 L160.00 237.43 L160.50 236.24 L161.00 235.05 L161.50 233.85 L162.00 232.65 L162.50 231.46 L163.00 230.26 L163.50 229.06 L164.00 227.87 L164.50 226.69 L165.00 225.52 L165.50 224.35 L166.00 223.20 L166.50 222.06 L167.00 220.94 L167.50 219.84 L168.00 218.76 L168.50 217.70 L169.00 216.68 L169.50 215.68 L170.00 214.71 L170.50 213.78 L171.00 212.88 L171.50 212.03 L172.00 211.22 L172.50 210.45 L173.00 209.74 L173.50 209.07 L174.00 208.46 L174.50 207.91 L175.00 207.42 L175.50 207.00 L176.00 206.64 L176.50 206.34 L177.00 206.12 L177.50 205.98 L178.00 205.91 L178.50 205.93 L179.00 206.15 L179.50 206.56 L180.00 207.16 L180.50 207.96 L181.00 208.96 L181.50 210.15 L182.00 211.53 L182.50 213.08 L183.00 214.82 L183.50 216.72 L184.00 218.77 L184.50 220.97 L185.00 223.31 L185.50 225.77 L186.00 228.33 L186.50 230.99 L187.00 233.72 L187.50 236.52 L188.00 239.36 L188.50 242.24 L189.00 245.13 L189.50 248.02 L190.00 250.89 L190.50 253.73 L191.00 256.53 L191.50 259.28 L192.00 261.95 L192.50 264.55 L193.00 267.05 L193.50 269.46 L194.00 271.76 L194.50 273.94 L195.00 276.01 L195.50 277.97 L196.00 279.79 L196.50 281.50 L197.00 283.08 L197.50 284.54 L198.00 285.89 L198.50 287.11 L199.00 288.23 L199.50 289.24 L200.00 290.14 L200.50 290.95 L201.00 291.67 L201.50 292.31 L202.00 292.87 L202.50 293.36 L203.00 293.78 L203.50 294.14 L204.00 294.46 L204.50 294.72 L205.00 294.94 L205.50 295.13 L206.00 295.29 L206.50 295.41 L207.00 295.52 L207.50 295.60 L208.00 295.66 L208.50 295.71 L209.00 295.75 L209.50 295.78 L210.00 295.80 L210.50 295.81 L211.00 295.82 L211.50 295.83 L212.00 295.83 L212.50 295.82 L213.00 295.82 L213.50 295.81 L214.00 295.81 L214.50 295.80 L215.00 295.79 L215.50 295.78 L216.00 295.77 L216.50 295.76 L217.00 295.75 L217.50 295.74 L218.00 295.73 L218.50 295.72 L219.00 295.71 L219.50 295.70 L220.00 295.69 L220.50 295.68 L221.00 295.67 L221.50 295.66 L222.00 295.65 L222.50 295.64 L223.00 295.63 L223.50 295.62 L224.00 295.61 L224.50 295.60 L225.00 295.60 L225.50 295.59 L226.00 295.58 L226.50 295.57 L227.00 295.56 L227.50 295.55 L228.00 295.54 L228.50 295.54 L229.00 295.53 L229.50 295.52 L230.00 295.51 L230.50 295.50 L231.00 295.50 L231.50 295.49 L232.00 295.48 L232.50 295.47 L233.00 295.47 L233.50 295.46 L234.00 295.45 L234.50 295.44 L235.00 295.44 L235.50 295.43 L236.00 295.42 L236.50 295.42 L237.00 295.41 L237.50 295.40 L238.00 295.40 L238.50 295.39 L239.00 295.38 L239.50 295.38 L240.00 295.37 L240.50 295.36 L241.00 295.36 L241.50 295.35 L242.00 295.35 L242.50 295.34 L243.00 295.33 L243.50 295.33 L244.00 295.32 L244.50 295.32 L245.00 295.31 L245.50 295.30 L246.00 295.30 L246.50 295.29 L247.00 295.29 L247.50 295.28 L248.00 295.28 L248.50 295.27 L249.00 295.27 L249.50 295.26 L250.00 295.26 L250.50 295.25 L251.00 295.25 L251.50 295.24 L252.00 295.24 L252.50 295.23 L253.00 295.23 L253.50 295.22 L254.00 295.22 L254.50 295.21 L255.00 295.21 L255.50 295.20 L256.00 295.20 L256.50 295.19 L257.00 295.19 L257.50 295.19 L258.00 295.18 L258.50 295.18 L259.00 295.17 L259.50 295.17 L260.00 295.17 L260.50 295.16 L261.00 295.16 L261.50 295.15 L262.00 295.15 L262.50 295.15 L263.00 295.14 L263.50 295.14 L264.00 295.13 L264.50 295.13 L265.00 295.13 L265.50 295.12 L266.00 295.12 L266.50 295.12 L267.00 295.11 L267.50 295.11 L268.00 295.11 L268.50 295.10 L269.00 295.10 L269.50 295.10 L270.00 295.09 L270.50 295.09 L271.00 295.09 L271.50 295.08 L272.00 295.08 L272.50 295.08 L273.00 295.07 L273.50 295.07 L274.00 295.07 L274.50 295.06 L275.00 295.06 L275.50 295.06 L276.00 295.06 L276.50 295.05 L277.00 295.05 L277.50 295.05 L278.00 295.04 L278.50 295.04 L279.00 295.04 L279.50 295.04 L280.00 295.03 L280.50 295.03 L281.00 295.03 L281.50 295.03 L282.00 295.02 L282.50 295.02 L283.00 295.02 L283.50 295.02 L284.00 295.01 L284.50 295.01 L285.00 295.01 L285.50 295.01 L286.00 295.01 L286.50 295.00 L287.00 295.00 L287.50 295.00 L288.00 295.00 L288.50 294.99 L289.00 294.99 L289.50 294.99 L290.00 294.99 L290.50 294.99 L291.00 294.98 L291.50 294.98 L292.00 294.98 L292.50 294.98 L293.00 294.98 L293.50 294.97 L294.00 294.97 L294.50 294.97 L295.00 294.97 L295.50 294.97 L296.00 294.96 L296.50 294.96 L297.00 294.96 L297.50 294.96 L298.00 294.96 L298.50 294.96 L299.00 294.95 L299.50 294.95 L300.00 294.95 L300.50 294.95 L301.00 294.95 L301.50 294.95 L302.00 294.94 L302.50 294.94 L303.00 294.94 L303.50 294.94 L304.00 294.94 L304.50 294.94 L305.00 294.93 L305.50 294.93 L306.00 294.93 L306.50 294.93 L307.00 294.93 L307.50 294.93 L308.00 294.93 L308.50 294.92 L309.00 294.92 L309.50 294.92 L310.00 294.92 L310.50 294.92 L311.00 294.92 L311.50 294.92 L312.00 294.92 L312.50 294.91 L313.00 294.91 L313.50 294.91 L314.00 294.91 L314.50 294.91 L315.00 294.91 L315.50 294.91 L316.00 294.91 L316.50 294.90 L317.00 294.90 L317.50 294.90 L318.00 294.90 L318.50 294.90 L319.00 294.90 L319.50 294.90 L320.00 294.90 L320.50 294.90 L321.00 294.89 L321.50 294.89 L322.00 294.89 L322.50 294.89 L323.00 294.89 L323.50 294.89 L324.00 294.89 L324.50 294.89 L325.00 294.89 L325.50 294.89 L326.00 294.88 L326.50 294.88 L327.00 294.88 L327.50 294.88 L328.00 294.88" stroke="#a0a0a4"/>
<path d="M50.00 321.89 L50.50 321.89 L51.00 321.88 L51.50 321.88 L52.00 321.88 L52.50 321.87 L53.00 321.87 L53.50 321.87 L54.00 321.86 L54.50 321.86 L55.00 321.86 L55.50 321.85 L56.00 321.85 L56.50 321.84 L57.00 321.84 L57.50 321.84 L58.00 321.83 L58.50 321.83 L59.00 321.82 L59.50 321.82 L60.00 321.81 L60.50 321.81 L61.00 321.80 L61.50 321.80 L62.00 321.79 L62.50 321.78 L63.00 321.78 L63.50 321.77 L64.00 321.77 L64.50 321.76 L65.00 321.75 L65.50 321.75 L66.00 321.74 L66.50 321.73 L67.00 321.72 L67.50 321.72 L68.00 321.71 L68.50 321.70 L69.00 321.69 L69.50 321.68 L70.00 321.67 L70.50 321.67 L71.00 321.66 L71.50 321.65 L72.00 321.64 L72.50 321.63 L73.00 321.62 L73.50 321.60 L74.00 321.59 L74.50 321.58 L75.00 321.57 L75.50 321.56 L76.00 321.54 L76.50 321.53 L77.00 321.52 L77.50 321.50 L78.00 321.49 L78.50 321.47 L79.00 321.46 L79.50 321.44 L80.00 321.43 L80.50 321.41 L81.00 321.39 L81.50 321.37 L82.00 321.36 L82.50 321.34 L83.00 321.32 L83.50 321.30 L84.00 321.28 L84.50 321.25 L85.00 321.23 L85.50 321.21 L86.00 321.19 L86.50 321.16 L87.00 321.14 L87.50 321.11 L88.00 321.08 L88.50 321.06 L89.00 321.03 L89.50 321.00 L90.00 320.97 L90.50 320.94 L91.00 320.91 L91.50 320.87 L92.00 320.84 L92.50 320.80 L93.00 320.77 L93.50 320.73 L94.00 320.69 L94.50 320.65 L95.00 320.61 L95.50 320.56 L96.00 320.52 L96.50 320.48 L97.00 320.43 L97.50 320.38 L98.00 320.33 L98.50 320.28 L99.00 320.23 L99.50 320.17 L100.00 320.11 L100.50 320.05 L101.00 319.99 L101.50 319.93 L102.00 319.87 L102.50 319.80 L103.00 319.73 L103.50 319.66 L104.00 319.59 L104.50 319.51 L105.00 319.44 L105.50 319.36 L106.00 319.27 L106.50 319.19 L107.00 319.10 L107.50 319.01 L108.00 318.91 L108.50 318.82 L109.00 318.72 L109.50 318.61 L110.00 318.51 L110.50 318.40 L111.00 318.28 L111.50 318.16 L112.00 318.04 L112.50 317.92 L113.00 317.79 L113.50 317.66 L114.00 317.52 L114.50 317.38 L115.00 317.23 L115.50 317.08 L116.00 316.93 L116.50 316.76 L117.00 316.60 L117.50 316.43 L118.00 316.25 L118.50 316.07 L119.00 315.88 L119.50 315.69 L120.00 315.49 L120.50 315.29 L121.00 315.07 L121.50 314.86 L122.00 314.63 L122.50 314.40 L123.00 314.16 L123.50 313.91 L124.00 313.66 L124.50 313.40 L125.00 313.13 L125.50 312.85 L126.00 312.56 L126.50 312.27 L127.00 311.96 L127.50 311.65 L128.00 311.33 L128.50 311.00 L129.00 310.66 L129.50 310.30 L130.00 309.94 L130.50 309.57 L131.00 309.19 L131.50 308.79 L132.00 308.39 L132.50 307.97 L133.00 307.54 L133.50 307.10 L134.00 306.65 L134.50 306.18 L135.00 305.70 L135.50 305.21 L136.00 304.71 L136.50 304.19 L137.00 303.66 L137.50 303.11 L138.00 302.55 L138.50 301.98 L139.00 301.39 L139.50 300.78 L140.00 300.16 L140.50 299.53 L141.00 298.87 L141.50 298.21 L142.00 297.52 L142.50 296.82 L143.00 296.11 L143.50 295.38 L144.00 294.63 L144.50 293.86 L145.00 293.08 L145.50 292.28 L146.00 291.46 L146.50 290.63 L147.00 289.78 L147.50 288.91 L148.00 288.03 L148.50 287.13 L149.00 286.21 L149.50 285.28 L150.00 284.32 L150.50 283.36 L151.00 282.38 L151.50 281.38 L152.00 280.36 L152.50 279.34 L153.00 278.29 L153.50 277.24 L154.00 276.17 L154.50 275.08 L155.00 273.99 L155.50 272.88 L156.00 271.77 L156.50 270.64 L157.00 269.50 L157.50 268.36 L158.00 267.21 L158.50 266.05 L159.00 264.89 L159.50 263.73 L160.00 262.56 L160.50 261.39 L161.00 260.23 L161.50 259.07 L162.00 257.91 L162.50 256.75 L163.00 255.61 L163.50 254.47 L164.00 253.34 L164.50 252.23 L165.00 251.13 L165.50 250.05 L166.00 248.99 L166.50 247.96 L167.00 246.94 L167.50 245.96 L168.00 245.00 L168.50 244.07 L169.00 243.18 L169.50 242.33 L170.00 241.51 L170.50 240.74 L171.00 240.01 L171.50 239.33 L172.00 238.70 L172.50 238.13 L173.00 237.60 L173.50 237.14 L174.00 236.74 L174.50 236.39 L175.00 236.12 L175.50 235.91 L176.00 235.77 L176.50 235.71 L177.00 235.72 L177.50 235.85 L178.00 236.11 L178.50 236.50 L179.00 237.01 L179.50 237.66 L180.00 238.45 L180.50 239.38 L181.00 240.44 L181.50 241.64 L182.00 242.98 L182.50 244.46 L183.00 246.07 L183.50 247.81 L184.00 249.68 L184.50 251.68 L185.00 253.79 L185.50 256.01 L186.00 258.33 L186.50 260.75 L187.00 263.25 L187.50 265.83 L188.00 268.47 L188.50 271.16 L189.00 273.89 L189.50 276.65 L190.00 279.42 L190.50 282.19 L191.00 284.95 L191.50 287.69 L192.00 290.38 L192.50 293.02 L193.00 295.59 L193.50 298.09 L194.00 300.50 L194.50 302.81 L195.00 305.02 L195.50 307.11 L196.00 309.08 L196.50 310.93 L197.00 312.65 L197.50 314.24 L198.00 315.70 L198.50 317.03 L199.00 318.23 L199.50 319.31 L200.00 320.27 L200.50 321.11 L201.00 321.85 L201.50 322.49 L202.00 323.04 L202.50 323.51 L203.00 323.90 L203.50 324.22 L204.00 324.48 L204.50 324.69 L205.00 324.86 L205.50 324.98 L206.00 325.08 L206.50 325.15 L207.00 325.20 L207.50 325.24 L208.00 325.26 L208.50 325.27 L209.00 325.27 L209.50 325.26 L210.00 325.26 L210.50 325.25 L211.00 325.23 L211.50 325.22 L212.00 325.20 L212.50 325.19 L213.00 325.17 L213.50 325.16 L214.00 325.14 L214.50 325.12 L215.00 325.11 L215.50 325.09 L216.00 325.08 L216.50 325.06 L217.00 325.05 L217.50 325.03 L218.00 325.02 L218.50 325.00 L219.00 324.99 L219.50 324.97 L220.00 324.96 L220.50 324.95 L221.00 324.93 L221.50 324.92 L222.00 324.91 L222.50 324.89 L223.00 324.88 L223.50 324.87 L224.00 324.85 L224.50 324.84 L225.00 324.83 L225.50 324.82 L226.00 324.80 L226.50 324.79 L227.00 324.78 L227.50 324.77 L228.00 324.76 L228.50 324.74 L229.00 324.73 L229.50 324.72 L230.00 324.71 L230.50 324.70 L231.00 324.69 L231.50 324.68 L232.00 324.67 L232.50 324.65 L233.00 324.64 L233.50 324.63 L234.00 324.62 L234.50 324.61 L235.00 324.60 L235.50 324.59 L236.00 324.58 L236.50 324.57 L237.00 324.56 L237.50 324.55 L238.00 324.55 L238.50 324.54 L239.00 324.53 L239.50 324.52 L240.00 324.51 L240.50 324.50 L241.00 324.49 L241.50 324.48 L242.00 324.47 L242.50 324.46 L243.00 324.46 L243.50 324.45 L244.00 324.44 L244.50 324.43 L245.00 324.42 L245.50 324.42 L246.00 324.41 L246.50 324.40 L247.00 324.39 L247.50 324.38 L248.00 324.38 L248.50 324.37 L249.00 324.36 L249.50 324.35 L250.00 324.35 L250.50 324.34 L251.00 324.33 L251.50 324.33 L252.00 324.32 L252.50 324.31 L253.00 324.31 L253.50 324.30 L254.00 324.29 L254.50 324.29 L255.00 324.28 L255.50 324.27 L256.00 324.27 L256.50 324.26 L257.00 324.25 L257.50 324.25 L258.00 324.24 L258.50 324.24 L259.00 324.23 L259.50 324.22 L260.00 324.22 L260.50 324.21 L261.00 324.21 L261.50 324.20 L262.00 324.20 L262.50 324.19 L263.00 324.18 L263.50 324.18 L264.00 324.17 L264.50 324.17 L265.00 324.16 L265.50 324.16 L266.00 324.15 L266.50 324.15 L267.00 324.14 L267.50 324.14 L268.00 324.13 L268.50 324.13 L269.00 324.12 L269.50 324.12 L270.00 324.12 L270.50 324.11 L271.00 324.11 L271.50 324.10 L272.00 324.10 L272.50 324.09 L273.00 324.09 L273.50 324.08 L274.00 324.08 L274.50 324.08 L275.00 324.07 L275.50 324.07 L276.00 324.06 L276.50 324.06 L277.00 324.06 L277.50 324.05 L278.00 324.05 L278.50 324.04 L279.00 324.04 L279.50 324.04 L280.00 324.03 L280.50 324.03 L281.00 324.03 L281.50 324.02 L282.00 324.02 L282.50 324.01 L283.00 324.01 L283.50 324.01 L284.00 324.00 L284.50 324.00 L285.00 324.00 L285.50 323.99 L286.00 323.99 L286.50 323.99 L287.00 323.98 L287.50 323.98 L288.00 323.98 L288.50 323.98 L289.00 323.97 L289.50 323.97 L290.00 323.97 L290.50 323.96 L291.00 323.96 L291.50 323.96 L292.00 323.95 L292.50 323.95 L293.00 323.95 L293.50 323.95 L294.00 323.94 L294.50 323.94 L295.00 323.94 L295.50 323.94 L296.00 323.93 L296.50 323.93 L297.00 323.93 L297.50 323.93 L298.00 323.92 L298.50 323.92 L299.00 323.92 L299.50 323.92 L300.00 323.91 L300.50 323.91 L301.00 323.91 L301.50 323.91 L302.00 323.90 L302.50 323.90 L303.00 323.90 L303.50 323.90 L304.00 323.89 L304.50 323.89 L305.00 323.89 L305.50 323.89 L306.00 323.89 L306.50 323.88 L307.00 323.88 L307.50 323.88 L308.00 323.88 L308.50 323.88 L309.00 323.87 L309.50 323.87 L310.00 323.87 L310.50 323.87 L311.00 323.87 L311.50 323.87 L312.00 323.86 L312.50 323.86 L313.00 323.86 L313.50 323.86 L314.00 323.86 L314.50 323.85 L315.00 323.85 L315.50 323.85 L316.00 323.85 L316.50 323.85 L317.00 323.85 L317.50 323.84 L318.00 323.84 L318.50 323.84 L319.00 323.84 L319.50 323.84 L320.00 323.84 L320.50 323.84 L321.00 323.83 L321.50 323.83 L322.00 323.83 L322.50 323.83 L323.00 323.83 L323.50 323.83 L324.00 323.83 L324.50 323.82 L325.00 323.82 L325.50 323.82 L326.00 323.82 L326.50 323.82 L327.00 323.82 L327.50 323.82 L328.00 323.81" stroke="#808000"/>
<path d="M50.00 350.19 L50.50 350.19 L51.00 350.19 L51.50 350.19 L52.00 350.18 L52.50 350.18 L53.00 350.18 L53.50 350.17 L54.00 350.17 L54.50 350.17 L55.00 350.16 L55.50 350.16 L56.00 350.16 L56.50 350.15 L57.00 350.15 L57.50 350.15 L58.00 350.14 L58.50 350.14 L59.00 350.13 L59.50 350.13 L60.00 350.12 L60.50 350.12 L61.00 350.11 L61.50 350.11 L62.00 350.10 L62.50 350.10 L63.00 350.09 L63.50 350.09 L64.00 350.08 L64.50 350.08 L65.00 350.07 L65.50 350.06 L66.00 350.06 L66.50 350.05 L67.00 350.05 L67.50 350.04 L68.00 350.03 L68.50 350.02 L69.00 350.02 L69.50 350.01 L70.00 350.00 L70.50 349.99 L71.00 349.98 L71.50 349.97 L72.00 349.97 L72.50 349.96 L73.00 349.95 L73.50 349.94 L74.00 349.93 L74.50 349.92 L75.00 349.91 L75.50 349.89 L76.00 349.88 L76.50 349.87 L77.00 349.86 L77.50 349.85 L78.00 349.83 L78.50 349.82 L79.00 349.81 L79.50 349.79 L80.00 349.78 L80.50 349.76 L81.00 349.75 L81.50 349.73 L82.00 349.71 L82.50 349.70 L83.00 349.68 L83.50 349.66 L84.00 349.64 L84.50 349.62 L85.00 349.60 L85.50 349.58 L86.00 349.56 L86.50 349.54 L87.00 349.52 L87.50 349.49 L88.00 349.47 L88.50 349.44 L89.00 349.42 L89.50 349.39 L90.00 349.37 L90.50 349.34 L91.00 349.31 L91.50 349.28 L92.00 349.25 L92.50 349.22 L93.00 349.18 L93.50 349.15 L94.00 349.12 L94.50 349.08 L95.00 349.04 L95.50 349.00 L96.00 348.96 L96.50 348.92 L97.00 348.88 L97.50 348.84 L98.00 348.79 L98.50 348.75 L99.00 348.70 L99.50 348.65 L100.00 348.60 L100.50 348.54 L101.00 348.49 L101.50 348.43 L102.00 348.38 L102.50 348.32 L103.00 348.25 L103.50 348.19 L104.00 348.12 L104.50 348.06 L105.00 347.99 L105.50 347.91 L106.00 347.84 L106.50 347.76 L107.00 347.68 L107.50 347.60 L108.00 347.51 L108.50 347.42 L109.00 347.33 L109.50 347.24 L110.00 347.14 L110.50 347.04 L111.00 346.94 L111.50 346.83 L112.00 346.72 L112.50 346.61 L113.00 346.49 L113.50 346.37 L114.00 346.24 L114.50 346.11 L115.00 345.98 L115.50 345.84 L116.00 345.70 L116.50 345.55 L117.00 345.40 L117.50 345.24 L118.00 345.08 L118.50 344.92 L119.00 344.74 L119.50 344.57 L120.00 344.38 L120.50 344.19 L121.00 344.00 L121.50 343.79 L122.00 343.59 L122.50 343.37 L123.00 343.15 L123.50 342.92 L124.00 342.68 L124.50 342.44 L125.00 342.19 L125.50 341.93 L126.00 341.66 L126.50 341.39 L127.00 341.10 L127.50 340.81 L128.00 340.51 L128.50 340.20 L129.00 339.88 L129.50 339.54 L130.00 339.20 L130.50 338.85 L131.00 338.49 L131.50 338.12 L132.00 337.73 L132.50 337.34 L133.00 336.93 L133.50 336.51 L134.00 336.08 L134.50 335.64 L135.00 335.18 L135.50 334.71 L136.00 334.23 L136.50 333.73 L137.00 333.22 L137.50 332.69 L138.00 332.15 L138.50 331.60 L139.00 331.03 L139.50 330.45 L140.00 329.84 L140.50 329.23 L141.00 328.60 L141.50 327.95 L142.00 327.28 L142.50 326.60 L143.00 325.90 L143.50 325.18 L144.00 324.45 L144.50 323.69 L145.00 322.92 L145.50 322.13 L146.00 321.33 L146.50 320.50 L147.00 319.66 L147.50 318.80 L148.00 317.92 L148.50 317.03 L149.00 316.11 L149.50 315.18 L150.00 314.23 L150.50 313.26 L151.00 312.27 L151.50 311.27 L152.00 310.24 L152.50 309.21 L153.00 308.15 L153.50 307.08 L154.00 306.00 L154.50 304.90 L155.00 303.78 L155.50 302.66 L156.00 301.52 L156.50 300.36 L157.00 299.20 L157.50 298.03 L158.00 296.84 L158.50 295.66 L159.00 294.46 L159.50 293.26 L160.00 292.05 L160.50 290.84 L161.00 289.64 L161.50 288.43 L162.00 287.22 L162.50 286.02 L163.00 284.83 L163.50 283.64 L164.00 282.47 L164.50 281.31 L165.00 280.16 L165.50 279.03 L166.00 277.92 L166.50 276.84 L167.00 275.78 L167.50 274.74 L168.00 273.74 L168.50 272.77 L169.00 271.84 L169.50 270.95 L170.00 270.10 L170.50 269.29 L171.00 268.54 L171.50 267.84 L172.00 267.19 L172.50 266.60 L173.00 266.07 L173.50 265.60 L174.00 265.20 L174.50 264.87 L175.00 264.61 L175.50 264.43 L176.00 264.33 L176.50 264.30 L177.00 264.38 L177.50 264.56 L178.00 264.85 L178.50 265.26 L179.00 265.79 L179.50 266.43 L180.00 267.20 L180.50 268.09 L181.00 269.10 L181.50 270.24 L182.00 271.50 L182.50 272.88 L183.00 274.39 L183.50 276.01 L184.00 277.75 L184.50 279.60 L185.00 281.56 L185.50 283.62 L186.00 285.77 L186.50 288.01 L187.00 290.34 L187.50 292.73 L188.00 295.19 L188.50 297.70 L189.00 300.25 L189.50 302.83 L190.00 305.44 L190.50 308.05 L191.00 310.67 L191.50 313.26 L192.00 315.84 L192.50 318.37 L193.00 320.86 L193.50 323.29 L194.00 325.64 L194.50 327.92 L195.00 330.11 L195.50 332.21 L196.00 334.20 L196.50 336.09 L197.00 337.86 L197.50 339.52 L198.00 341.06 L198.50 342.48 L199.00 343.78 L199.50 344.97 L200.00 346.04 L200.50 347.00 L201.00 347.86 L201.50 348.61 L202.00 349.27 L202.50 349.85 L203.00 350.34 L203.50 350.76 L204.00 351.12 L204.50 351.42 L205.00 351.66 L205.50 351.86 L206.00 352.02 L206.50 352.15 L207.00 352.25 L207.50 352.32 L208.00 352.38 L208.50 352.43 L209.00 352.46 L209.50 352.48 L210.00 352.50 L210.50 352.50 L211.00 352.51 L211.50 352.51 L212.00 352.52 L212.50 352.51 L213.00 352.51 L213.50 352.51 L214.00 352.51 L214.50 352.51 L215.00 352.50 L215.50 352.50 L216.00 352.50 L216.50 352.50 L217.00 352.49 L217.50 352.49 L218.00 352.49 L218.50 352.49 L219.00 352.48 L219.50 352.48 L220.00 352.48 L220.50 352.48 L221.00 352.47 L221.50 352.47 L222.00 352.47 L222.50 352.47 L223.00 352.46 L223.50 352.46 L224.00 352.46 L224.50 352.46 L225.00 352.45 L225.50 352.45 L226.00 352.45 L226.50 352.45 L227.00 352.44 L227.50 352.44 L228.00 352.44 L228.50 352.44 L229.00 352.44 L229.50 352.43 L230.00 352.43 L230.50 352.43 L231.00 352.43 L231.50 352.43 L232.00 352.42 L232.50 352.42 L233.00 352.42 L233.50 352.42 L234.00 352.42 L234.50 352.41 L235.00 352.41 L235.50 352.41 L236.00 352.41 L236.50 352.41 L237.00 352.41 L237.50 352.40 L238.00 352.40 L238.50 352.40 L239.00 352.40 L239.50 352.40 L240.00 352.40 L240.50 352.39 L241.00 352.39 L241.50 352.39 L242.00 352.39 L242.50 352.39 L243.00 352.39 L243.50 352.39 L244.00 352.38 L244.50 352.38 L245.00 352.38 L245.50 352.38 L246.00 352.38 L246.50 352.38 L247.00 352.37 L247.50 352.37 L248.00 352.37 L248.50 352.37 L249.00 352.37 L249.50 352.37 L250.00 352.37 L250.50 352.37 L251.00 352.36 L251.50 352.36 L252.00 352.36 L252.50 352.36 L253.00 352.36 L253.50 352.36 L254.00 352.36 L254.50 352.36 L255.00 352.35 L255.50 352.35 L256.00 352.35 L256.50 352.35 L257.00 352.35 L257.50 352.35 L258.00 352.35 L258.50 352.35 L259.00 352.35 L259.50 352.34 L260.00 352.34 L260.50 352.34 L261.00 352.34 L261.50 352.34 L262.00 352.34 L262.50 352.34 L263.00 352.34 L263.50 352.34 L264.00 352.34 L264.50 352.33 L265.00 352.33 L265.50 352.33 L266.00 352.33 L266.50 352.33 L267.00 352.33 L267.50 352.33 L268.00 352.33 L268.50 352.33 L269.00 352.33 L269.50 352.33 L270.00 352.32 L270.50 352.32 L271.00 352.32 L271.50 352.32 L272.00 352.32 L272.50 352.32 L273.00 352.32 L273.50 352.32 L274.00 352.32 L274.50 352.32 L275.00 352.32 L275.50 352.32 L276.00 352.32 L276.50 352.31 L277.00 352.31 L277.50 352.31 L278.00 352.31 L278.50 352.31 L279.00 352.31 L279.50 352.31 L280.00 352.31 L280.50 352.31 L281.00 352.31 L281.50 352.31 L282.00 352.31 L282.50 352.31 L283.00 352.31 L283.50 352.31 L284.00 352.30 L284.50 352.30 L285.00 352.30 L285.50 352.30 L286.00 352.30 L286.50 352.30 L287.00 352.30 L287.50 352.30 L288.00 352.30 L288.50 352.30 L289.00 352.30 L289.50 352.30 L290.00 352.30 L290.50 352.30 L291.00 352.30 L291.50 352.30 L292.00 352.30 L292.50 352.30 L293.00 352.29 L293.50 352.29 L294.00 352.29 L294.50 352.29 L295.00 352.29 L295.50 352.29 L296.00 352.29 L296.50 352.29 L297.00 352.29 L297.50 352.29 L298.00 352.29 L298.50 352.29 L299.00 352.29 L299.50 352.29 L300.00 352.29 L300.50 352.29 L301.00 352.29 L301.50 352.29 L302.00 352.29 L302.50 352.29 L303.00 352.29 L303.50 352.29 L304.00 352.29 L304.50 352.28 L305.00 352.28 L305.50 352.28 L306.00 352.28 L306.50 352.28 L307.00 352.28 L307.50 352.28 L308.00 352.28 L308.50 352.28 L309.00 352.28 L309.50 352.28 L310.00 352.28 L310.50 352.28 L311.00 352.28 L311.50 352.28 L312.00 352.28 L312.50 352.28 L313.00 352.28 L313.50 352.28 L314.00 352.28 L314.50 352.28 L315.00 352.28 L315.50 352.28 L316.00 352.28 L316.50 352.28 L317.00 352.28 L317.50 352.28 L318.00 352.28 L318.50 352.28 L319.00 352.28 L319.50 352.27 L320.00 352.27 L320.50 352.27 L321.00 352.27 L321.50 352.27 L322.00 352.27 L322.50 352.27 L323.00 352.27 L323.50 352.27 L324.00 352.27 L324.50 352.27 L325.00 352.27 L325.50 352.27 L326.00 352.27 L326.50 352.27 L327.00 352.27 L327.50 352.27 L328.00 352.27" stroke="#000080"/>
<path d="M50.00 120.49 L50.50 120.49 L51.00 120.49 L51.50 120.49 L52.00 120.49 L52.50 120.49 L53.00 120.49 L53.50 120.49 L54.00 120.49 L54.50 120.49 L55.00 120.49 L55.50 120.49 L56.00 120.49 L56.50 120.49 L57.00 120.48 L57.50 120.48 L58.00 120.48 L58.50 120.48 L59.00 120.48 L59.50 120.48 L60.00 120.48 L60.50 120.48 L61.00 120.48 L61.50 120.48 L62.00 120.47 L62.50 120.47 L63.00 120.47 L63.50 120.47 L64.00 120.47 L64.50 120.47 L65.00 120.47 L65.50 120.46 L66.00 120.46 L66.50 120.46 L67.00 120.46 L67.50 120.46 L68.00 120.45 L68.50 120.45 L69.00 120.45 L69.50 120.45 L70.00 120.44 L70.50 120.44 L71.00 120.44 L71.50 120.44 L72.00 120.43 L72.50 120.43 L73.00 120.43 L73.50 120.42 L74.00 120.42 L74.50 120.41 L75.00 120.41 L75.50 120.41 L76.00 120.40 L76.50 120.40 L77.00 120.39 L77.50 120.39 L78.00 120.38 L78.50 120.37 L79.00 120.37 L79.50 120.36 L80.00 120.36 L80.50 120.35 L81.00 120.34 L81.50 120.33 L82.00 120.33 L82.50 120.32 L83.00 120.31 L83.50 120.30 L84.00 120.29 L84.50 120.28 L85.00 120.27 L85.50 120.26 L86.00 120.25 L86.50 120.23 L87.00 120.22 L87.50 120.21 L88.00 120.19 L88.50 120.18 L89.00 120.16 L89.50 120.15 L90.00 120.13 L90.50 120.11 L91.00 120.10 L91.50 120.08 L92.00 120.06 L92.50 120.04 L93.00 120.02 L93.50 119.99 L94.00 119.97 L94.50 119.95 L95.00 119.92 L95.50 119.89 L96.00 119.87 L96.50 119.84 L97.00 119.81 L97.50 119.77 L98.00 119.74 L98.50 119.71 L99.00 119.67 L99.50 119.63 L100.00 119.59 L100.50 119.55 L101.00 119.51 L101.50 119.47 L102.00 119.42 L102.50 119.37 L103.00 119.32 L103.50 119.27 L104.00 119.22 L104.50 119.16 L105.00 119.10 L105.50 119.04 L106.00 118.98 L106.50 118.91 L107.00 118.84 L107.50 118.77 L108.00 118.70 L108.50 118.62 L109.00 118.54 L109.50 118.45 L110.00 118.37 L110.50 118.28 L111.00 118.18 L111.50 118.09 L112.00 117.99 L112.50 117.88 L113.00 117.77 L113.50 117.66 L114.00 117.54 L114.50 117.42 L115.00 117.30 L115.50 117.17 L116.00 117.03 L116.50 116.89 L117.00 116.74 L117.50 116.59 L118.00 116.44 L118.50 116.28 L119.00 116.11 L119.50 115.94 L120.00 115.76 L120.50 115.57 L121.00 115.38 L121.50 115.19 L122.00 114.98 L122.50 114.77 L123.00 114.55 L123.50 114.33 L124.00 114.10 L124.50 113.86 L125.00 113.61 L125.50 113.36 L126.00 113.10 L126.50 112.82 L127.00 112.55 L127.50 112.26 L128.00 111.96 L128.50 111.66 L129.00 111.35 L129.50 111.02 L130.00 110.69 L130.50 110.35 L131.00 110.00 L131.50 109.64 L132.00 109.27 L132.50 108.89 L133.00 108.50 L133.50 108.10 L134.00 107.69 L134.50 107.27 L135.00 106.84 L135.50 106.40 L136.00 105.95 L136.50 105.49 L137.00 105.02 L137.50 104.53 L138.00 104.04 L138.50 103.53 L139.00 103.02 L139.50 102.49 L140.00 101.96 L140.50 101.41 L141.00 100.85 L141.50 100.28 L142.00 99.70 L142.50 99.11 L143.00 98.51 L143.50 97.90 L144.00 97.28 L144.50 96.65 L145.00 96.01 L145.50 95.36 L146.00 94.71 L146.50 94.04 L147.00 93.36 L147.50 92.68 L148.00 91.99 L148.50 91.29 L149.00 90.58 L149.50 89.87 L150.00 89.15 L150.50 88.43 L151.00 87.70 L151.50 86.96 L152.00 86.22 L152.50 85.48 L153.00 84.73 L153.50 83.98 L154.00 83.23 L154.50 82.48 L155.00 81.73 L155.50 80.97 L156.00 80.22 L156.50 79.47 L157.00 78.72 L157.50 77.98 L158.00 77.24 L158.50 76.50 L159.00 75.78 L159.50 75.05 L160.00 74.34 L160.50 73.63 L161.00 72.94 L161.50 72.25 L162.00 71.58 L162.50 70.92 L163.00 70.27 L163.50 69.64 L164.00 69.02 L164.50 68.42 L165.00 67.84 L165.50 67.27 L166.00 66.73 L166.50 66.21 L167.00 65.71 L167.50 65.23 L168.00 64.77 L168.50 64.34 L169.00 63.94 L169.50 63.56 L170.00 63.21 L170.50 62.89 L171.00 62.60 L171.50 62.33 L172.00 62.10 L172.50 61.90 L173.00 61.74 L173.50 61.60 L174.00 61.50 L174.50 61.43 L175.00 61.40 L175.50 61.41 L176.00 61.44 L176.50 61.50 L177.00 61.60 L177.50 61.73 L178.00 61.88 L178.50 62.07 L179.00 62.29 L179.50 62.54 L180.00 62.82 L180.50 63.12 L181.00 63.46 L181.50 63.82 L182.00 64.21 L182.50 64.63 L183.00 65.07 L183.50 65.54 L184.00 66.04 L184.50 66.56 L185.00 67.10 L185.50 67.67 L186.00 68.26 L186.50 68.87 L187.00 69.50 L187.50 70.15 L188.00 70.82 L188.50 71.50 L189.00 72.21 L189.50 72.93 L190.00 73.66 L190.50 74.41 L191.00 75.17 L191.50 75.94 L192.00 76.72 L192.50 77.52 L193.00 78.32 L193.50 79.13 L194.00 79.95 L194.50 80.77 L195.00 81.60 L195.50 82.44 L196.00 83.27 L196.50 84.11 L197.00 84.95 L197.50 85.79 L198.00 86.63 L198.50 87.47 L199.00 88.31 L199.50 89.14 L200.00 89.97 L200.50 90.80 L201.00 91.62 L201.50 92.43 L202.00 93.24 L202.50 94.04 L203.00 94.83 L203.50 95.62 L204.00 96.39 L204.50 97.16 L205.00 97.92 L205.50 98.66 L206.00 99.40 L206.50 100.12 L207.00 100.83 L207.50 101.53 L208.00 102.22 L208.50 102.89 L209.00 103.56 L209.50 104.20 L210.00 104.84 L210.50 105.46 L211.00 106.07 L211.50 106.66 L212.00 107.24 L212.50 107.81 L213.00 108.36 L213.50 108.90 L214.00 109.42 L214.50 109.93 L215.00 110.43 L215.50 110.91 L216.00 111.38 L216.50 111.83 L217.00 112.27 L217.50 112.70 L218.00 113.11 L218.50 113.51 L219.00 113.90 L219.50 114.27 L220.00 114.63 L220.50 114.98 L221.00 115.32 L221.50 115.64 L222.00 115.96 L222.50 116.26 L223.00 116.55 L223.50 116.83 L224.00 117.09 L224.50 117.35 L225.00 117.60 L225.50 117.83 L226.00 118.06 L226.50 118.28 L227.00 118.49 L227.50 118.69 L228.00 118.88 L228.50 119.06 L229.00 119.24 L229.50 119.40 L230.00 119.56 L230.50 119.71 L231.00 119.86 L231.50 119.99 L232.00 120.13 L232.50 120.25 L233.00 120.37 L233.50 120.48 L234.00 120.59 L234.50 120.69 L235.00 120.79 L235.50 120.88 L236.00 120.96 L236.50 121.04 L237.00 121.12 L237.50 121.19 L238.00 121.26 L238.50 121.33 L239.00 121.39 L239.50 121.45 L240.00 121.50 L240.50 121.56 L241.00 121.60 L241.50 121.65 L242.00 121.69 L242.50 121.73 L243.00 121.77 L243.50 121.81 L244.00 121.84 L244.50 121.87 L245.00 121.90 L245.50 121.93 L246.00 121.96 L246.50 121.98 L247.00 122.00 L247.50 122.02 L248.00 122.04 L248.50 122.06 L249.00 122.08 L249.50 122.10 L250.00 122.11 L250.50 122.13 L251.00 122.14 L251.50 122.15 L252.00 122.16 L252.50 122.17 L253.00 122.18 L253.50 122.19 L254.00 122.20 L254.50 122.21 L255.00 122.22 L255.50 122.22 L256.00 122.23 L256.50 122.23 L257.00 122.24 L257.50 122.24 L258.00 122.25 L258.50 122.25 L259.00 122.26 L259.50 122.26 L260.00 122.26 L260.50 122.27 L261.00 122.27 L261.50 122.27 L262.00 122.27 L262.50 122.28 L263.00 122.28 L263.50 122.28 L264.00 122.28 L264.50 122.28 L265.00 122.29 L265.50 122.29 L266.00 122.29 L266.50 122.29 L267.00 122.29 L267.50 122.29 L268.00 122.29 L268.50 122.29 L269.00 122.29 L269.50 122.29 L270.00 122.29 L270.50 122.29 L271.00 122.30 L271.50 122.30 L272.00 122.30 L272.50 122.30 L273.00 122.30 L273.50 122.30 L274.00 122.30 L274.50 122.30 L275.00 122.30 L275.50 122.30 L276.00 122.30 L276.50 122.30 L277.00 122.30 L277.50 122.30 L278.00 122.30 L278.50 122.30 L279.00 122.30 L279.50 122.30 L280.00 122.30 L280.50 122.30 L281.00 122.30 L281.50 122.30 L282.00 122.30 L282.50 122.30 L283.00 122.30 L283.50 122.30 L284.00 122.30 L284.50 122.30 L285.00 122.30 L285.50 122.30 L286.00 122.30 L286.50 122.30 L287.00 122.30 L287.50 122.30 L288.00 122.30 L288.50 122.30 L289.00 122.30 L289.50 122.30 L290.00 122.30 L290.50 122.30 L291.00 122.30 L291.50 122.30 L292.00 122.30 L292.50 122.30 L293.00 122.30 L293.50 122.30 L294.00 122.30 L294.50 122.30 L295.00 122.30 L295.50 122.30 L296.00 122.30 L296.50 122.30 L297.00 122.30 L297.50 122.30 L298.00 122.30 L298.50 122.30 L299.00 122.30 L299.50 122.30 L300.00 122.30 L300.50 122.30 L301.00 122.30 L301.50 122.30 L302.00 122.30 L302.50 122.30 L303.00 122.30 L303.50 122.30 L304.00 122.30 L304.50 122.30 L305.00 122.30 L305.50 122.30 L306.00 122.30 L306.50 122.30 L307.00 122.30 L307.50 122.30 L308.00 122.30 L308.50 122.30 L309.00 122.30 L309.50 122.30 L310.00 122.30 L310.50 122.30 L311.00 122.30 L311.50 122.30 L312.00 122.30 L312.50 122.30 L313.00 122.30 L313.50 122.30 L314.00 122.30 L314.50 122.30 L315.00 122.30 L315.50 122.30 L316.00 122.30 L316.50 122.30 L317.00 122.30 L317.50 122.30 L318.00 122.30 L318.50 122.30 L319.00 122.30 L319.50 122.30 L320.00 122.30 L320.50 122.30 L321.00 122.30 L321.50 122.30 L322.00 122.30 L322.50 122.30 L323.00 122.30 L323.50 122.30 L324.00 122.30 L324.50 122.30 L325.00 122.30 L325.50 122.30 L326.00 122.30 L326.50 122.30 L327.00 122.30 L327.50 122.30 L328.00 122.30" stroke="#000000"/>
</g>
<g>
<rect x="49" y="0" width="1" height="353" fill="#000"/>
<rect x="49" y="0" width="280" height="1" fill="#000"/>
<rect x="49" y="352" width="280" height="1" fill="#000"/>
<rect x="327" y="0" width="1" height="352" fill="#6e6e6e"/><rect x="328" y="0" width="1" height="352" fill="#a0a0a0"/>
<line x1="42.60" y1="351.70" x2="49" y2="351.70" stroke="#000" stroke-width="1"/>
<line x1="45.40" y1="322.95" x2="49" y2="322.95" stroke="#000" stroke-width="1"/>
<line x1="45.40" y1="294.20" x2="49" y2="294.20" stroke="#000" stroke-width="1"/>
<line x1="45.40" y1="265.45" x2="49" y2="265.45" stroke="#000" stroke-width="1"/>
<line x1="42.60" y1="236.70" x2="49" y2="236.70" stroke="#000" stroke-width="1"/>
<line x1="45.40" y1="207.95" x2="49" y2="207.95" stroke="#000" stroke-width="1"/>
<line x1="45.40" y1="179.20" x2="49" y2="179.20" stroke="#000" stroke-width="1"/>
<line x1="45.40" y1="150.45" x2="49" y2="150.45" stroke="#000" stroke-width="1"/>
<line x1="42.60" y1="121.70" x2="49" y2="121.70" stroke="#000" stroke-width="1"/>
<line x1="45.40" y1="92.95" x2="49" y2="92.95" stroke="#000" stroke-width="1"/>
<line x1="45.40" y1="64.20" x2="49" y2="64.20" stroke="#000" stroke-width="1"/>
<line x1="45.40" y1="35.45" x2="49" y2="35.45" stroke="#000" stroke-width="1"/>
<line x1="42.60" y1="6.70" x2="49" y2="6.70" stroke="#000" stroke-width="1"/>
<line x1="50.50" y1="353" x2="50.50" y2="359.00" stroke="#000" stroke-width="1"/>
<line x1="67.81" y1="353" x2="67.81" y2="356.60" stroke="#000" stroke-width="1"/>
<line x1="85.12" y1="353" x2="85.12" y2="356.60" stroke="#000" stroke-width="1"/>
<line x1="102.44" y1="353" x2="102.44" y2="356.60" stroke="#000" stroke-width="1"/>
<line x1="119.75" y1="353" x2="119.75" y2="359.00" stroke="#000" stroke-width="1"/>
<line x1="137.06" y1="353" x2="137.06" y2="356.60" stroke="#000" stroke-width="1"/>
<line x1="154.38" y1="353" x2="154.38" y2="356.60" stroke="#000" stroke-width="1"/>
<line x1="171.69" y1="353" x2="171.69" y2="356.60" stroke="#000" stroke-width="1"/>
<line x1="189.00" y1="353" x2="189.00" y2="359.00" stroke="#000" stroke-width="1"/>
<line x1="206.31" y1="353" x2="206.31" y2="356.60" stroke="#000" stroke-width="1"/>
<line x1="223.62" y1="353" x2="223.62" y2="356.60" stroke="#000" stroke-width="1"/>
<line x1="240.94" y1="353" x2="240.94" y2="356.60" stroke="#000" stroke-width="1"/>
<line x1="258.25" y1="353" x2="258.25" y2="359.00" stroke="#000" stroke-width="1"/>
<line x1="275.56" y1="353" x2="275.56" y2="356.60" stroke="#000" stroke-width="1"/>
<line x1="292.88" y1="353" x2="292.88" y2="356.60" stroke="#000" stroke-width="1"/>
<line x1="310.19" y1="353" x2="310.19" y2="356.60" stroke="#000" stroke-width="1"/>
<line x1="327.50" y1="353" x2="327.50" y2="359.00" stroke="#000" stroke-width="1"/>
</g>
<g>
<text transform="translate(39.6,357.90) scale(1,1.075)" text-anchor="end" class="t">0</text>
<text transform="translate(39.6,242.90) scale(1,1.075)" text-anchor="end" class="t">0.2</text>
<text transform="translate(39.6,127.90) scale(1,1.075)" text-anchor="end" class="t">0.4</text>
<text transform="translate(39.6,12.90) scale(1,1.075)" text-anchor="end" class="t">0.6</text>
<text transform="translate(50.30,378.5) scale(1,1.075)" text-anchor="middle" class="t">−4</text>
<text transform="translate(119.30,378.5) scale(1,1.075)" text-anchor="middle" class="t">−2</text>
<text transform="translate(189.90,378.5) scale(1,1.075)" text-anchor="middle" class="t">0</text>
<text transform="translate(258.30,378.5) scale(1,1.075)" text-anchor="middle" class="t">2</text>
<text transform="translate(327.80,378.5) scale(1,1.075)" text-anchor="middle" class="t">4</text>
<text x="186.8" y="396.6" text-anchor="middle" class="b" font-size="16.4">frequency</text>
<text transform="translate(12.3,179.8) rotate(-90)" text-anchor="middle" class="b" font-size="15">PES</text>
</g>
</svg>
</body></html>
